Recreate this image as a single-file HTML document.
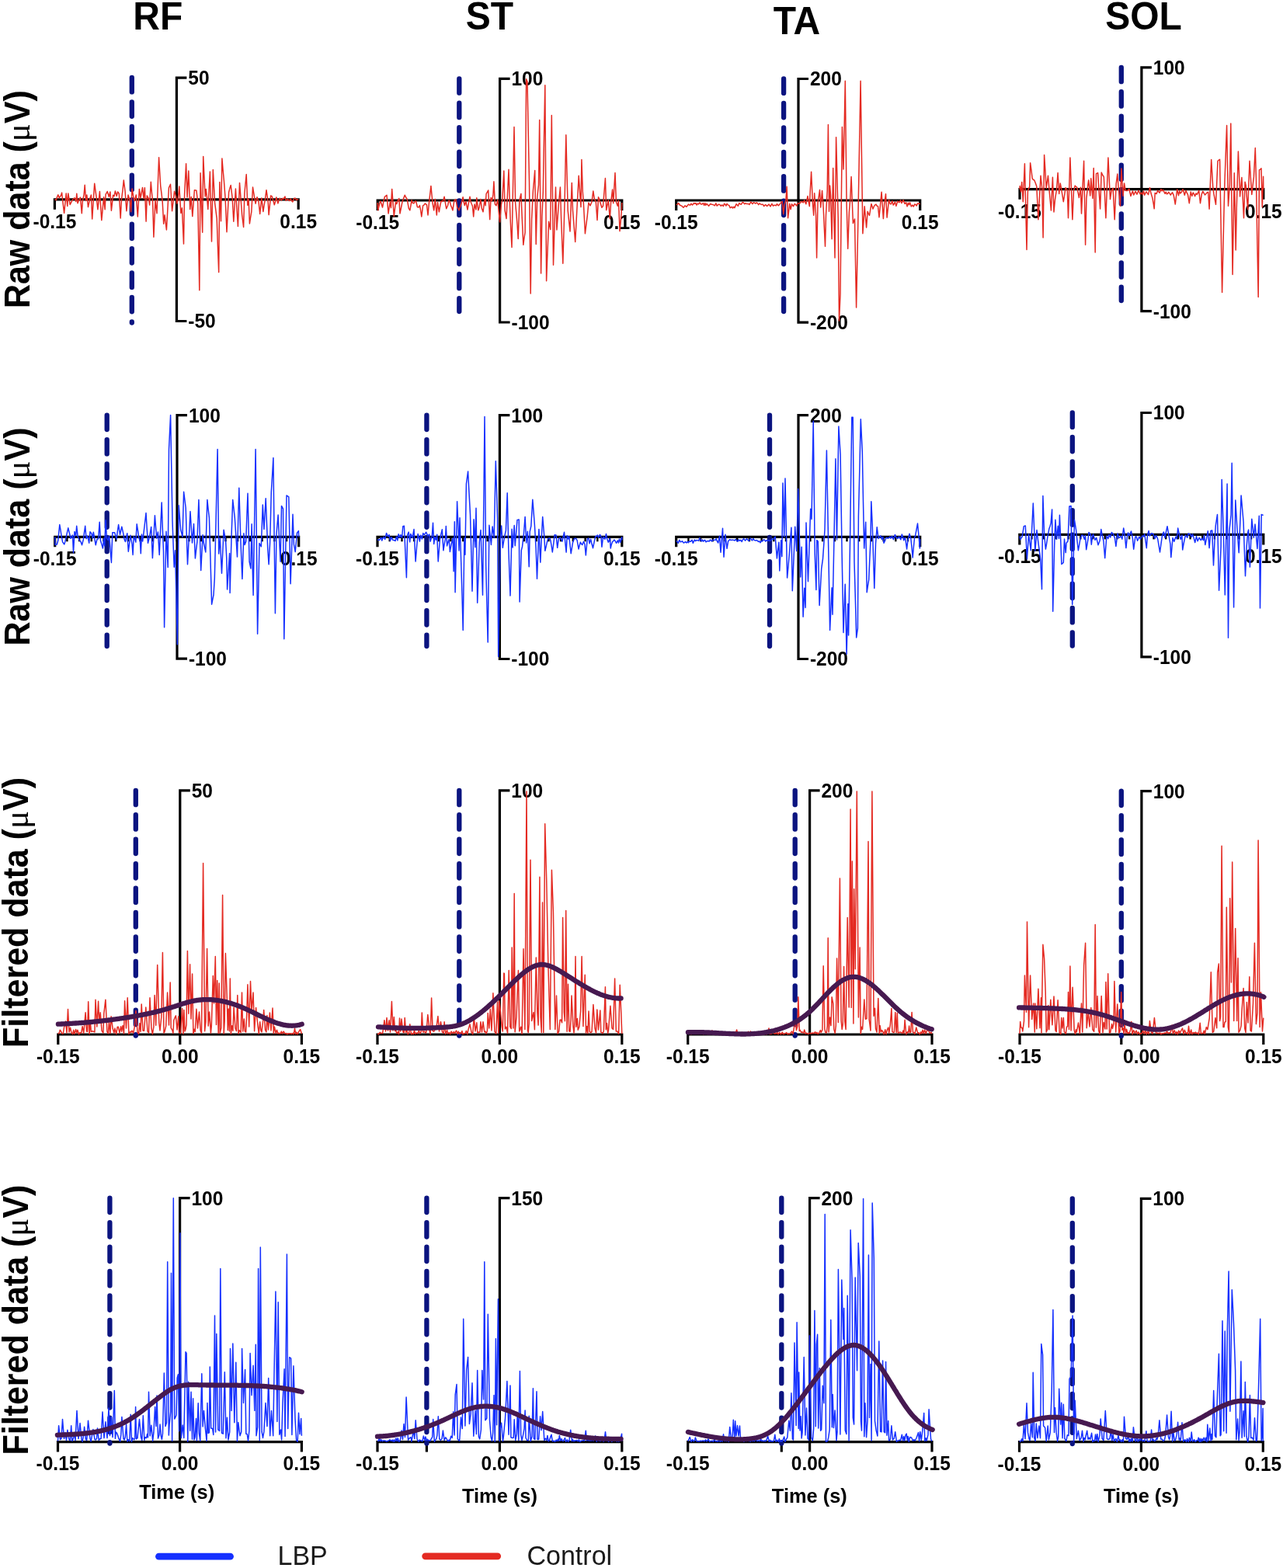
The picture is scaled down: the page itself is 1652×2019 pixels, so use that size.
<!DOCTYPE html>
<html><head><meta charset="utf-8"><title>EMG figure</title>
<style>html,body{margin:0;padding:0;background:#fff;}svg{display:block;}</style>
</head><body>
<svg xmlns="http://www.w3.org/2000/svg" width="1652" height="2019" viewBox="0 0 1652 2019"><rect width="1652" height="2019" fill="#fff"/><text x="0.0" y="0.0" font-family="'Liberation Sans', Arial, sans-serif" font-size="48" font-weight="bold" text-anchor="middle" fill="#000" transform="translate(203.2,37.8) scale(1,1.045)">RF</text><text x="0.0" y="0.0" font-family="'Liberation Sans', Arial, sans-serif" font-size="48" font-weight="bold" text-anchor="middle" fill="#000" transform="translate(630.5,37.8) scale(1,1.045)">ST</text><text x="0.0" y="0.0" font-family="'Liberation Sans', Arial, sans-serif" font-size="48" font-weight="bold" text-anchor="middle" fill="#000" transform="translate(1025.9,43.6) scale(1,1.045)">TA</text><text x="0.0" y="0.0" font-family="'Liberation Sans', Arial, sans-serif" font-size="48" font-weight="bold" text-anchor="middle" fill="#000" transform="translate(1472.5,38.0) scale(1,1.045)">SOL</text><text transform="translate(38.3,256.6) rotate(-90) scale(1,1.055)" font-family="'Liberation Sans', Arial, sans-serif" font-size="43" font-weight="bold" text-anchor="middle">Raw data (<tspan font-family="'Liberation Serif', serif" font-weight="normal">&#956;</tspan>V)</text><text transform="translate(38.2,691.0) rotate(-90) scale(1,1.055)" font-family="'Liberation Sans', Arial, sans-serif" font-size="43" font-weight="bold" text-anchor="middle">Raw data (<tspan font-family="'Liberation Serif', serif" font-weight="normal">&#956;</tspan>V)</text><text transform="translate(36.2,1175.0) rotate(-90) scale(1,1.055)" font-family="'Liberation Sans', Arial, sans-serif" font-size="43" font-weight="bold" text-anchor="middle">Filtered data (<tspan font-family="'Liberation Serif', serif" font-weight="normal">&#956;</tspan>V)</text><text transform="translate(36.2,1699.6) rotate(-90) scale(1,1.055)" font-family="'Liberation Sans', Arial, sans-serif" font-size="43" font-weight="bold" text-anchor="middle">Filtered data (<tspan font-family="'Liberation Serif', serif" font-weight="normal">&#956;</tspan>V)</text><path d="M240.4,100.2 H227.4 V413.5 H240.4" fill="none" stroke="#000" stroke-width="3.2" stroke-linejoin="miter" stroke-linecap="butt"/><path d="M70.4,269.8 V256.8 H384.2 V269.8" fill="none" stroke="#000" stroke-width="3.2" stroke-linejoin="miter"/><text x="0.0" y="0.0" font-family="'Liberation Sans', Arial, sans-serif" font-size="24.5" font-weight="bold" text-anchor="start" fill="#000" transform="translate(242.3,109.1) scale(1,1.035)">50</text><text x="0.0" y="0.0" font-family="'Liberation Sans', Arial, sans-serif" font-size="24.5" font-weight="bold" text-anchor="start" fill="#000" transform="translate(242.3,422.4) scale(1,1.035)">-50</text><text x="0.0" y="0.0" font-family="'Liberation Sans', Arial, sans-serif" font-size="24.5" font-weight="bold" text-anchor="middle" fill="#000" transform="translate(70.4,293.8) scale(1,1.035)">-0.15</text><text x="0.0" y="0.0" font-family="'Liberation Sans', Arial, sans-serif" font-size="24.5" font-weight="bold" text-anchor="middle" fill="#000" transform="translate(384.2,293.8) scale(1,1.035)">0.15</text><line x1="169.8" y1="100.0" x2="169.8" y2="415.5" stroke="#0b1480" stroke-width="6.3" stroke-linecap="round" stroke-dasharray="18.4 13.04"/><path d="M70.4,256.8 L72.4,257.5 L73.6,253.5 L74.8,250.9 L76.3,254.7 L77.4,253.1 L78.6,251.5 L79.6,248.1 L81.1,261.6 L82.6,274.3 L83.9,261.8 L85.2,249.1 L86.8,265.5 L87.8,249.1 L89.0,256.2 L90.2,263.5 L92.0,259.8 L93.9,256.7 L96.0,254.8 L97.8,259.6 L98.8,249.3 L100.0,261.8 L101.6,257.4 L103.5,254.1 L105.3,274.8 L106.4,258.7 L108.1,250.6 L109.2,238.3 L110.6,258.4 L111.8,250.9 L113.5,266.6 L114.7,260.8 L115.9,255.3 L117.4,251.1 L118.7,282.0 L120.2,258.5 L121.7,236.2 L122.9,245.1 L124.2,254.6 L125.9,269.7 L127.2,257.9 L128.4,246.5 L129.6,264.4 L130.8,283.6 L132.2,269.1 L133.6,253.8 L135.1,269.7 L136.1,250.3 L138.2,246.5 L140.3,253.2 L141.9,247.0 L143.4,271.2 L145.6,251.2 L147.0,252.8 L148.4,245.9 L150.2,252.5 L151.6,247.0 L153.3,249.3 L155.2,281.0 L156.5,256.7 L157.9,245.8 L159.3,232.1 L161.1,246.3 L162.9,271.7 L165.0,251.1 L166.2,254.9 L167.4,258.5 L168.6,272.8 L170.1,242.9 L171.6,252.4 L173.0,258.8 L174.1,255.5 L175.3,250.9 L177.3,278.9 L179.4,243.4 L181.0,254.8 L182.2,248.7 L183.5,241.4 L185.0,255.5 L186.4,241.7 L188.1,285.1 L189.3,251.9 L191.5,256.0 L192.6,264.0 L194.3,234.2 L195.4,247.5 L196.6,259.3 L197.9,305.2 L200.0,258.1 L202.0,274.8 L203.3,238.0 L204.6,202.8 L206.7,239.1 L208.0,249.2 L209.2,259.9 L210.7,288.2 L212.0,276.8 L213.2,286.3 L214.4,295.9 L215.9,269.1 L217.4,241.9 L219.5,237.2 L221.6,271.7 L223.1,258.7 L224.6,246.2 L225.7,250.1 L226.8,253.8 L227.7,262.2 L229.0,258.3 L230.8,240.0 L232.9,274.5 L234.4,267.8 L236.5,314.1 L237.6,250.4 L239.6,210.7 L241.1,253.9 L242.8,220.0 L244.7,269.4 L246.2,253.4 L247.8,278.6 L249.1,262.0 L250.4,244.7 L251.7,244.9 L252.9,245.2 L254.8,261.9 L256.8,373.8 L258.1,222.7 L259.4,261.9 L260.7,299.2 L261.7,201.4 L262.9,227.1 L264.2,252.9 L265.3,243.6 L266.6,255.3 L267.8,269.4 L269.1,244.7 L270.4,221.0 L272.5,311.0 L274.3,218.4 L275.5,240.4 L276.6,261.1 L277.9,271.1 L279.2,281.7 L280.4,316.7 L281.7,350.6 L282.8,234.4 L284.5,284.7 L285.9,204.0 L287.1,218.7 L288.4,232.8 L290.1,255.2 L292.0,298.7 L293.3,273.4 L294.6,247.7 L295.9,242.4 L297.2,238.5 L299.2,255.3 L300.8,285.3 L302.1,264.7 L303.4,243.1 L304.9,267.5 L306.4,291.5 L308.5,235.4 L310.1,256.1 L311.6,276.6 L313.6,292.5 L314.9,248.5 L316.0,237.0 L317.2,224.6 L318.8,264.3 L320.1,256.3 L321.4,287.9 L322.6,280.0 L323.8,272.8 L325.5,241.1 L326.7,248.3 L327.9,255.6 L329.1,262.2 L331.0,253.8 L333.0,259.5 L334.7,275.5 L336.8,254.9 L338.9,272.4 L340.0,264.9 L341.2,257.9 L343.0,244.7 L345.2,260.2 L346.1,276.6 L347.4,264.2 L348.6,251.9 L350.2,252.9 L351.8,258.3 L353.3,263.7 L354.6,259.3 L355.8,253.9 L357.9,261.9 L359.0,258.0 L360.1,255.3 L362.3,258.0 L363.8,255.4 L364.9,256.5 L366.9,253.0 L368.2,258.3 L370.3,256.4 L372.4,258.5 L374.2,256.1 L375.5,258.4 L376.8,259.9 L378.9,255.2 L380.2,255.2 L381.5,257.5 L382.9,256.8 L384.2,256.8" fill="none" stroke="#e42a22" stroke-width="1.5" stroke-linejoin="round"/><path d="M656.6,101.3 H643.6 V415.0 H656.6" fill="none" stroke="#000" stroke-width="3.2" stroke-linejoin="miter" stroke-linecap="butt"/><path d="M486.2,271.0 V258.0 H800.8 V271.0" fill="none" stroke="#000" stroke-width="3.2" stroke-linejoin="miter"/><text x="0.0" y="0.0" font-family="'Liberation Sans', Arial, sans-serif" font-size="24.5" font-weight="bold" text-anchor="start" fill="#000" transform="translate(658.5,110.2) scale(1,1.035)">100</text><text x="0.0" y="0.0" font-family="'Liberation Sans', Arial, sans-serif" font-size="24.5" font-weight="bold" text-anchor="start" fill="#000" transform="translate(658.5,423.9) scale(1,1.035)">-100</text><text x="0.0" y="0.0" font-family="'Liberation Sans', Arial, sans-serif" font-size="24.5" font-weight="bold" text-anchor="middle" fill="#000" transform="translate(486.2,295.0) scale(1,1.035)">-0.15</text><text x="0.0" y="0.0" font-family="'Liberation Sans', Arial, sans-serif" font-size="24.5" font-weight="bold" text-anchor="middle" fill="#000" transform="translate(800.8,295.0) scale(1,1.035)">0.15</text><line x1="591.3" y1="101.3" x2="591.3" y2="401.0" stroke="#0b1480" stroke-width="6.3" stroke-linecap="round" stroke-dasharray="18.4 13.04"/><path d="M486.2,261.0 L486.7,270.8 L488.9,261.3 L490.0,259.0 L491.2,262.7 L492.5,267.0 L493.9,259.4 L495.4,253.3 L496.7,252.4 L498.0,251.2 L500.1,274.9 L501.2,267.0 L502.3,260.1 L503.4,267.6 L504.7,243.5 L506.0,260.5 L507.3,278.5 L509.5,260.2 L510.8,262.6 L511.9,259.0 L513.8,255.5 L515.0,274.9 L516.5,267.5 L518.0,260.0 L519.6,255.5 L521.2,251.2 L522.7,254.3 L524.2,256.4 L526.3,268.3 L527.8,270.8 L529.0,264.4 L530.1,257.8 L531.0,261.0 L532.9,261.9 L534.4,259.2 L535.6,259.0 L537.4,266.5 L539.0,267.0 L540.4,264.5 L541.6,270.7 L542.8,279.0 L544.6,264.9 L545.9,264.0 L547.4,262.0 L549.5,263.9 L551.0,277.0 L552.7,258.6 L553.8,249.3 L554.9,239.4 L557.0,261.3 L558.7,270.8 L560.3,256.4 L562.3,277.0 L563.5,260.5 L565.4,272.8 L566.7,264.9 L568.0,259.0 L569.3,259.4 L571.0,257.6 L572.1,253.3 L573.4,261.1 L574.7,268.7 L576.7,264.2 L578.0,258.0 L579.1,259.1 L580.6,264.9 L581.8,267.4 L582.9,270.8 L584.9,258.2 L587.0,256.9 L588.7,267.1 L589.9,268.5 L591.1,270.8 L592.5,266.4 L594.0,262.0 L596.1,253.8 L597.2,260.3 L598.3,264.6 L599.8,259.2 L602.0,270.0 L603.5,261.1 L605.0,253.3 L606.2,260.0 L607.3,262.8 L608.4,265.3 L609.7,279.0 L611.0,263.0 L612.9,269.9 L613.8,254.8 L615.8,270.8 L617.1,267.0 L618.9,256.4 L620.3,268.3 L622.0,272.8 L624.1,256.7 L625.1,264.7 L626.1,249.7 L627.4,247.4 L628.7,245.0 L630.7,282.6 L632.1,254.5 L633.5,258.5 L634.9,251.2 L635.9,233.7 L637.4,263.0 L639.0,264.6 L640.8,257.3 L642.2,272.8 L643.6,286.0 L645.4,263.7 L646.9,256.8 L648.8,220.0 L650.1,270.8 L652.0,281.5 L653.5,249.8 L655.0,218.2 L656.3,259.2 L657.3,285.8 L659.0,318.4 L660.5,241.0 L662.0,163.6 L663.6,261.2 L664.9,275.4 L666.1,290.0 L667.2,307.5 L668.9,257.8 L670.9,249.4 L672.3,281.8 L673.8,315.3 L674.9,306.8 L676.1,299.4 L677.6,101.8 L679.0,105.1 L680.2,168.9 L681.5,234.3 L683.2,378.0 L684.6,282.8 L686.4,245.6 L687.6,232.3 L688.7,219.5 L690.2,314.5 L691.7,254.9 L693.5,238.1 L694.7,154.6 L696.6,352.1 L697.9,278.2 L699.3,247.1 L700.5,177.5 L701.8,109.8 L703.6,361.7 L704.6,334.5 L706.6,285.3 L708.7,295.6 L710.3,148.6 L711.4,244.8 L712.5,341.2 L714.0,291.3 L715.5,241.0 L716.9,296.0 L718.1,279.9 L719.3,263.4 L721.4,241.1 L722.6,281.4 L723.7,310.0 L724.8,339.3 L726.0,297.2 L727.2,254.7 L728.8,173.7 L730.0,222.4 L731.2,271.1 L732.6,284.7 L734.0,297.9 L735.2,265.4 L736.3,235.4 L737.5,270.5 L739.1,291.4 L740.7,311.5 L742.8,271.2 L744.0,249.2 L745.2,226.3 L746.7,249.1 L748.0,266.6 L748.9,205.5 L750.3,246.7 L751.4,262.2 L753.4,300.8 L754.8,289.4 L756.3,277.8 L757.9,261.0 L760.0,264.8 L762.0,260.0 L763.8,246.1 L765.3,255.8 L767.3,260.3 L769.0,283.4 L770.5,253.7 L771.8,256.9 L773.1,261.6 L774.9,267.2 L776.5,265.3 L778.0,246.7 L779.4,229.5 L780.7,270.6 L782.0,264.1 L783.3,257.8 L785.3,281.7 L786.6,260.8 L788.6,244.0 L789.7,261.8 L790.8,242.2 L792.0,222.5 L793.4,259.9 L795.3,265.2 L796.5,258.2 L798.0,297.6 L799.1,286.3 L800.2,273.2 L800.8,261.0" fill="none" stroke="#e42a22" stroke-width="1.5" stroke-linejoin="round"/><path d="M1041.0,101.5 H1028.0 V415.2 H1041.0" fill="none" stroke="#000" stroke-width="3.2" stroke-linejoin="miter" stroke-linecap="butt"/><path d="M870.7,271.0 V258.0 H1184.7 V271.0" fill="none" stroke="#000" stroke-width="3.2" stroke-linejoin="miter"/><text x="0.0" y="0.0" font-family="'Liberation Sans', Arial, sans-serif" font-size="24.5" font-weight="bold" text-anchor="start" fill="#000" transform="translate(1042.9,110.4) scale(1,1.035)">200</text><text x="0.0" y="0.0" font-family="'Liberation Sans', Arial, sans-serif" font-size="24.5" font-weight="bold" text-anchor="start" fill="#000" transform="translate(1042.9,424.1) scale(1,1.035)">-200</text><text x="0.0" y="0.0" font-family="'Liberation Sans', Arial, sans-serif" font-size="24.5" font-weight="bold" text-anchor="middle" fill="#000" transform="translate(870.7,295.0) scale(1,1.035)">-0.15</text><text x="0.0" y="0.0" font-family="'Liberation Sans', Arial, sans-serif" font-size="24.5" font-weight="bold" text-anchor="middle" fill="#000" transform="translate(1184.7,295.0) scale(1,1.035)">0.15</text><line x1="1009.1" y1="101.5" x2="1009.1" y2="401.0" stroke="#0b1480" stroke-width="6.3" stroke-linecap="round" stroke-dasharray="18.4 13.04"/><path d="M870.7,263.5 L872.3,263.2 L873.6,261.5 L875.6,264.3 L877.8,265.1 L880.0,267.2 L882.1,264.8 L884.0,266.3 L885.2,264.6 L886.4,263.1 L887.6,263.9 L888.9,264.1 L889.9,262.2 L891.6,264.0 L893.6,261.5 L894.9,262.3 L895.9,261.5 L897.0,264.0 L898.4,262.0 L899.5,262.9 L901.0,260.9 L902.1,262.5 L903.2,263.1 L904.4,262.5 L905.5,261.6 L906.7,264.5 L907.8,261.6 L908.8,264.2 L910.0,262.3 L911.3,263.7 L912.6,265.2 L914.7,262.5 L916.6,263.2 L918.4,263.6 L920.4,264.8 L921.8,261.7 L923.2,265.1 L924.5,263.7 L925.8,263.1 L927.1,263.7 L928.3,265.3 L929.6,263.9 L931.4,265.5 L932.5,262.3 L933.7,263.0 L934.9,265.0 L936.1,262.4 L937.3,263.9 L938.8,264.4 L940.2,267.6 L942.3,266.3 L943.5,268.0 L944.9,266.2 L945.9,267.7 L948.1,262.6 L950.3,265.3 L951.8,261.6 L953.0,262.7 L954.2,263.3 L956.2,260.4 L957.5,261.2 L958.8,262.8 L960.0,261.7 L961.2,262.5 L962.5,262.4 L963.8,262.4 L964.9,263.5 L966.8,260.1 L968.9,262.6 L970.4,260.7 L971.5,261.1 L972.6,262.0 L974.4,261.0 L975.5,261.9 L976.7,263.6 L978.0,261.9 L980.1,263.5 L981.2,263.3 L982.3,263.2 L983.7,265.5 L985.7,263.5 L987.6,265.4 L988.8,264.2 L990.0,263.0 L992.0,265.9 L993.9,262.4 L995.5,265.2 L996.6,264.3 L997.8,264.2 L999.3,264.8 L1000.5,262.6 L1002.3,264.8 L1003.5,263.4 L1004.6,262.2 L1005.9,260.6 L1007.2,259.4 L1008.7,275.7 L1010.0,264.1 L1011.9,258.0 L1013.1,240.3 L1014.6,280.7 L1016.7,262.3 L1018.1,269.6 L1019.5,262.7 L1021.5,265.6 L1023.1,262.4 L1024.4,263.2 L1025.6,264.9 L1027.5,261.6 L1028.7,262.0 L1029.9,261.9 L1031.0,260.4 L1032.2,259.3 L1034.3,260.9 L1035.6,257.7 L1037.8,262.8 L1040.0,252.5 L1041.1,259.3 L1042.3,265.6 L1043.4,243.3 L1044.6,221.2 L1046.4,261.2 L1047.7,277.2 L1048.7,248.8 L1050.6,277.2 L1051.6,332.0 L1053.0,261.2 L1054.3,253.1 L1055.5,244.6 L1056.7,267.0 L1058.6,245.4 L1060.2,267.8 L1061.3,292.4 L1062.5,317.2 L1063.5,277.1 L1065.2,245.8 L1066.4,160.4 L1067.5,272.3 L1068.6,238.9 L1069.6,252.4 L1071.1,307.8 L1072.7,216.5 L1073.8,275.5 L1075.0,332.0 L1076.6,176.8 L1077.9,228.6 L1079.2,280.6 L1080.5,413.0 L1082.0,378.8 L1083.2,270.4 L1084.4,163.5 L1086.0,218.1 L1087.2,160.9 L1088.3,104.2 L1090.1,262.2 L1091.7,320.3 L1093.4,273.1 L1094.8,255.6 L1096.1,227.5 L1097.2,257.7 L1098.4,287.5 L1100.5,282.0 L1102.6,396.0 L1104.7,292.2 L1106.2,206.5 L1108.1,104.2 L1109.5,202.6 L1110.9,300.8 L1112.1,283.3 L1113.2,265.7 L1114.4,279.3 L1115.6,293.0 L1117.1,272.3 L1118.3,275.0 L1119.5,277.4 L1120.7,270.0 L1121.9,262.6 L1124.0,269.0 L1125.5,265.5 L1126.7,263.9 L1128.0,263.1 L1128.8,264.9 L1130.5,265.6 L1132.0,279.8 L1133.7,261.6 L1135.1,247.2 L1136.2,264.6 L1137.4,281.6 L1138.6,263.6 L1140.5,249.7 L1142.1,280.1 L1143.3,268.9 L1144.5,257.3 L1146.0,262.4 L1147.4,262.7 L1148.8,258.8 L1150.2,264.1 L1151.3,262.5 L1152.4,260.0 L1153.9,265.4 L1155.8,259.0 L1157.8,260.8 L1159.6,257.9 L1160.8,261.6 L1161.9,259.9 L1163.1,257.6 L1165.0,262.4 L1166.7,260.8 L1168.1,265.9 L1169.4,261.3 L1170.5,263.7 L1171.6,260.9 L1173.4,265.9 L1174.8,264.1 L1176.3,265.9 L1177.9,262.8 L1179.1,263.6 L1180.3,265.0 L1181.3,262.1 L1182.5,262.3 L1183.7,262.1 L1184.7,263.0" fill="none" stroke="#e42a22" stroke-width="1.5" stroke-linejoin="round"/><path d="M1482.9,86.8 H1469.9 V400.6 H1482.9" fill="none" stroke="#000" stroke-width="3.2" stroke-linejoin="miter" stroke-linecap="butt"/><path d="M1313.0,256.7 V243.7 H1626.8 V256.7" fill="none" stroke="#000" stroke-width="3.2" stroke-linejoin="miter"/><text x="0.0" y="0.0" font-family="'Liberation Sans', Arial, sans-serif" font-size="24.5" font-weight="bold" text-anchor="start" fill="#000" transform="translate(1484.8,95.7) scale(1,1.035)">100</text><text x="0.0" y="0.0" font-family="'Liberation Sans', Arial, sans-serif" font-size="24.5" font-weight="bold" text-anchor="start" fill="#000" transform="translate(1484.8,409.5) scale(1,1.035)">-100</text><text x="0.0" y="0.0" font-family="'Liberation Sans', Arial, sans-serif" font-size="24.5" font-weight="bold" text-anchor="middle" fill="#000" transform="translate(1313.0,280.7) scale(1,1.035)">-0.15</text><text x="0.0" y="0.0" font-family="'Liberation Sans', Arial, sans-serif" font-size="24.5" font-weight="bold" text-anchor="middle" fill="#000" transform="translate(1626.8,280.7) scale(1,1.035)">0.15</text><line x1="1443.8" y1="86.8" x2="1443.8" y2="387.0" stroke="#0b1480" stroke-width="6.3" stroke-linecap="round" stroke-dasharray="18.4 13.04"/><path d="M1313.0,243.7 L1313.2,239.6 L1314.5,246.9 L1315.7,234.5 L1317.3,259.7 L1319.4,210.8 L1320.7,265.3 L1322.0,321.4 L1323.4,246.4 L1324.5,242.8 L1325.7,240.4 L1326.6,209.7 L1327.9,218.8 L1329.2,229.8 L1330.5,231.5 L1331.8,231.9 L1333.3,235.8 L1334.8,240.1 L1336.9,282.8 L1338.5,254.1 L1340.0,226.2 L1341.8,243.0 L1343.1,306.0 L1344.6,199.5 L1345.9,220.0 L1347.2,242.2 L1348.3,234.5 L1349.5,226.2 L1351.2,246.9 L1353.4,271.0 L1355.4,228.3 L1357.0,273.0 L1358.4,257.6 L1360.5,243.8 L1362.1,222.6 L1363.7,249.4 L1365.2,236.0 L1366.3,241.5 L1367.4,248.2 L1369.3,259.7 L1370.7,250.8 L1372.0,241.7 L1373.1,243.2 L1374.3,245.2 L1375.5,280.7 L1376.7,242.5 L1377.9,203.1 L1379.4,242.5 L1380.9,282.8 L1382.5,245.4 L1384.2,239.1 L1385.4,240.4 L1386.7,241.1 L1388.6,250.3 L1389.4,254.5 L1391.4,241.2 L1392.5,275.1 L1394.0,241.7 L1395.6,207.2 L1397.6,315.2 L1398.9,255.7 L1400.8,238.2 L1401.7,231.9 L1403.7,251.9 L1404.8,229.8 L1406.9,255.5 L1408.2,216.4 L1410.2,325.0 L1411.5,223.7 L1413.6,222.6 L1415.1,246.1 L1416.6,268.9 L1418.2,222.1 L1419.8,225.5 L1421.3,227.7 L1422.6,253.8 L1423.9,280.7 L1425.4,241.4 L1426.9,203.1 L1428.2,230.3 L1429.5,256.6 L1431.0,246.1 L1433.1,242.2 L1435.2,282.8 L1437.2,236.5 L1438.8,224.1 L1440.2,242.5 L1441.3,253.0 L1442.4,265.3 L1443.9,216.9 L1446.0,252.4 L1447.6,235.9 L1449.1,245.3 L1450.3,245.6 L1451.6,245.5 L1452.7,244.5 L1453.9,243.4 L1456.0,252.5 L1457.2,249.0 L1458.4,246.0 L1459.8,251.0 L1461.0,248.5 L1462.1,246.4 L1463.9,250.2 L1466.0,245.2 L1468.1,250.0 L1469.7,248.1 L1471.2,250.5 L1472.6,246.1 L1473.7,251.2 L1474.9,248.6 L1476.0,246.8 L1477.3,248.8 L1478.6,250.7 L1480.5,241.7 L1482.0,248.8 L1484.0,255.4 L1485.1,261.7 L1486.2,268.8 L1487.2,248.4 L1489.1,249.6 L1490.7,245.3 L1491.9,246.9 L1493.1,248.1 L1495.0,243.6 L1496.1,245.8 L1497.7,244.5 L1498.9,247.2 L1500.1,249.4 L1501.3,247.2 L1502.5,249.9 L1503.7,249.2 L1504.8,247.4 L1506.1,249.1 L1507.3,251.1 L1508.5,249.2 L1509.6,247.8 L1511.2,251.4 L1513.3,263.0 L1514.5,253.0 L1515.7,243.9 L1517.5,251.7 L1518.7,245.7 L1519.8,249.1 L1521.2,247.6 L1523.0,243.7 L1524.2,247.1 L1525.3,251.2 L1527.0,245.3 L1528.2,248.1 L1529.5,250.7 L1531.3,261.7 L1533.2,247.1 L1534.9,252.4 L1536.3,247.9 L1537.4,249.8 L1538.6,252.8 L1540.0,249.1 L1541.3,250.4 L1542.5,248.2 L1543.7,245.4 L1545.5,261.7 L1547.3,249.9 L1548.8,246.4 L1550.1,248.7 L1551.4,251.0 L1552.6,249.9 L1553.9,248.2 L1555.7,247.4 L1557.1,269.1 L1558.4,236.5 L1559.7,205.6 L1561.7,240.1 L1562.9,249.7 L1564.2,256.3 L1565.5,263.3 L1566.8,234.0 L1568.0,207.3 L1569.3,206.2 L1570.6,205.3 L1572.1,290.2 L1573.6,376.6 L1574.7,328.3 L1575.8,280.0 L1577.0,232.4 L1578.3,197.2 L1579.6,161.5 L1581.5,265.2 L1583.4,237.8 L1584.8,159.0 L1585.9,256.3 L1587.1,353.4 L1588.2,287.3 L1589.3,222.7 L1591.2,321.9 L1592.3,266.8 L1594.4,195.0 L1596.6,253.0 L1597.8,240.0 L1598.9,228.5 L1600.2,254.5 L1601.5,280.7 L1603.1,234.3 L1604.2,238.6 L1605.4,254.5 L1606.7,269.7 L1607.8,238.5 L1609.0,207.3 L1610.4,229.4 L1611.8,250.4 L1613.1,239.1 L1614.4,227.9 L1616.3,190.5 L1617.5,233.1 L1618.8,308.4 L1620.2,382.4 L1621.5,218.8 L1622.8,218.1 L1624.0,216.9 L1625.3,266.5 L1626.6,227.2 L1626.8,243.7" fill="none" stroke="#e42a22" stroke-width="1.5" stroke-linejoin="round"/><path d="M241.0,534.6 H228.0 V848.2 H241.0" fill="none" stroke="#000" stroke-width="3.2" stroke-linejoin="miter" stroke-linecap="butt"/><path d="M70.7,704.3 V691.3 H384.7 V704.3" fill="none" stroke="#000" stroke-width="3.2" stroke-linejoin="miter"/><line x1="86.4" y1="691.3" x2="86.4" y2="697.3" stroke="#000" stroke-width="2.4"/><line x1="102.1" y1="691.3" x2="102.1" y2="697.3" stroke="#000" stroke-width="2.4"/><line x1="117.8" y1="691.3" x2="117.8" y2="697.3" stroke="#000" stroke-width="2.4"/><line x1="133.5" y1="691.3" x2="133.5" y2="697.3" stroke="#000" stroke-width="2.4"/><line x1="149.2" y1="691.3" x2="149.2" y2="697.3" stroke="#000" stroke-width="2.4"/><line x1="164.9" y1="691.3" x2="164.9" y2="697.3" stroke="#000" stroke-width="2.4"/><line x1="180.6" y1="691.3" x2="180.6" y2="697.3" stroke="#000" stroke-width="2.4"/><line x1="196.3" y1="691.3" x2="196.3" y2="697.3" stroke="#000" stroke-width="2.4"/><line x1="212.0" y1="691.3" x2="212.0" y2="697.3" stroke="#000" stroke-width="2.4"/><line x1="227.7" y1="691.3" x2="227.7" y2="697.3" stroke="#000" stroke-width="2.4"/><line x1="243.4" y1="691.3" x2="243.4" y2="697.3" stroke="#000" stroke-width="2.4"/><line x1="259.1" y1="691.3" x2="259.1" y2="697.3" stroke="#000" stroke-width="2.4"/><line x1="274.8" y1="691.3" x2="274.8" y2="697.3" stroke="#000" stroke-width="2.4"/><line x1="290.5" y1="691.3" x2="290.5" y2="697.3" stroke="#000" stroke-width="2.4"/><line x1="306.2" y1="691.3" x2="306.2" y2="697.3" stroke="#000" stroke-width="2.4"/><line x1="321.9" y1="691.3" x2="321.9" y2="697.3" stroke="#000" stroke-width="2.4"/><line x1="337.6" y1="691.3" x2="337.6" y2="697.3" stroke="#000" stroke-width="2.4"/><line x1="353.3" y1="691.3" x2="353.3" y2="697.3" stroke="#000" stroke-width="2.4"/><line x1="369.0" y1="691.3" x2="369.0" y2="697.3" stroke="#000" stroke-width="2.4"/><text x="0.0" y="0.0" font-family="'Liberation Sans', Arial, sans-serif" font-size="24.5" font-weight="bold" text-anchor="start" fill="#000" transform="translate(242.9,543.5) scale(1,1.035)">100</text><text x="0.0" y="0.0" font-family="'Liberation Sans', Arial, sans-serif" font-size="24.5" font-weight="bold" text-anchor="start" fill="#000" transform="translate(242.9,857.1) scale(1,1.035)">-100</text><text x="0.0" y="0.0" font-family="'Liberation Sans', Arial, sans-serif" font-size="24.5" font-weight="bold" text-anchor="middle" fill="#000" transform="translate(70.7,728.3) scale(1,1.035)">-0.15</text><text x="0.0" y="0.0" font-family="'Liberation Sans', Arial, sans-serif" font-size="24.5" font-weight="bold" text-anchor="middle" fill="#000" transform="translate(384.7,728.3) scale(1,1.035)">0.15</text><line x1="137.7" y1="534.6" x2="137.7" y2="832.0" stroke="#0b1480" stroke-width="6.3" stroke-linecap="round" stroke-dasharray="18.4 13.04"/><path d="M70.7,691.3 L71.0,701.7 L72.1,701.1 L73.3,701.0 L74.7,696.3 L76.8,675.6 L77.9,681.8 L79.0,689.3 L80.6,697.8 L82.7,700.9 L83.9,697.2 L85.0,692.3 L86.4,685.9 L87.8,679.8 L89.4,686.5 L91.0,693.3 L92.2,691.4 L93.5,689.1 L94.5,711.8 L96.0,684.5 L97.7,689.5 L98.7,677.3 L100.1,690.1 L102.0,695.3 L104.0,697.5 L105.5,701.7 L107.4,694.6 L108.5,685.7 L109.7,677.3 L111.1,693.7 L112.4,690.0 L113.6,693.8 L114.7,699.2 L116.0,684.7 L118.0,687.3 L119.2,693.1 L120.3,685.2 L121.8,693.4 L123.2,701.7 L125.0,694.2 L126.6,693.7 L128.2,672.3 L129.4,695.7 L130.9,700.9 L132.4,706.0 L133.6,693.3 L134.7,702.8 L136.1,669.7 L137.4,693.4 L139.0,695.4 L140.7,690.3 L142.1,707.5 L143.4,724.5 L144.8,685.8 L146.2,685.8 L147.6,685.7 L148.8,689.6 L150.0,694.3 L151.3,684.3 L152.6,675.6 L154.5,688.3 L155.7,683.1 L156.8,678.2 L158.0,683.3 L159.1,688.6 L160.0,694.3 L161.4,697.5 L162.6,691.9 L163.8,686.7 L165.3,710.2 L166.7,699.4 L168.0,689.3 L170.1,700.9 L171.1,714.4 L172.2,690.7 L173.5,693.8 L174.8,698.1 L176.2,674.8 L177.5,683.1 L178.7,692.1 L180.4,696.9 L181.3,712.7 L182.5,687.9 L183.7,696.9 L185.0,686.3 L186.5,673.5 L188.0,660.5 L189.2,680.8 L190.5,699.2 L191.8,694.0 L193.0,688.3 L194.7,678.5 L196.4,718.6 L197.9,691.6 L199.4,663.8 L200.6,679.2 L201.7,693.2 L203.4,684.9 L205.2,714.4 L206.7,680.4 L208.2,647.0 L209.3,679.4 L210.5,710.0 L211.6,807.8 L212.8,745.4 L214.0,684.2 L216.2,730.6 L217.5,578.8 L219.6,534.6 L220.8,603.3 L222.0,670.4 L223.1,701.4 L224.2,730.3 L225.6,708.7 L227.0,769.6 L228.4,829.7 L230.2,650.8 L231.5,667.3 L232.7,682.3 L233.8,686.4 L235.0,691.5 L236.6,633.3 L237.9,643.5 L239.2,654.0 L240.3,690.0 L241.5,726.7 L242.7,703.3 L243.9,681.3 L245.0,658.5 L246.2,678.2 L247.5,699.0 L249.5,674.6 L251.4,719.0 L252.6,707.8 L253.9,697.5 L255.9,643.6 L257.3,688.1 L258.7,734.4 L259.9,711.6 L261.1,688.7 L262.3,699.0 L263.5,704.9 L264.8,710.9 L266.9,643.6 L268.1,655.3 L269.4,666.8 L270.7,710.8 L272.6,778.2 L273.8,771.8 L275.0,766.0 L276.3,744.8 L277.3,703.6 L278.7,641.5 L280.1,578.6 L281.7,713.1 L283.4,693.0 L284.6,719.9 L285.5,738.3 L286.8,710.1 L288.1,682.3 L289.4,689.7 L290.6,696.4 L291.8,719.1 L292.6,758.9 L294.1,735.5 L295.6,712.5 L296.1,763.4 L298.1,688.7 L299.7,643.6 L301.0,654.9 L302.3,666.8 L303.9,691.8 L305.5,717.1 L306.6,671.8 L307.8,628.2 L308.9,664.5 L310.0,699.1 L311.9,745.4 L313.9,686.8 L315.1,701.6 L316.7,697.3 L317.8,666.4 L319.0,635.3 L321.1,723.4 L322.9,731.9 L324.1,674.8 L325.2,731.5 L326.1,766.6 L327.6,672.2 L329.1,578.6 L330.4,697.2 L331.6,816.2 L332.8,758.9 L334.0,699.5 L335.1,701.5 L336.3,703.8 L338.3,650.1 L339.9,681.4 L341.1,661.2 L342.2,641.7 L343.5,674.5 L344.7,706.0 L346.1,726.7 L347.6,699.4 L349.3,633.3 L350.6,612.2 L351.9,589.6 L353.1,690.1 L354.4,789.8 L356.0,687.3 L358.1,663.1 L358.9,680.4 L361.1,723.2 L362.5,651.4 L364.5,655.1 L365.8,822.7 L367.4,730.6 L369.0,637.9 L370.4,638.8 L371.8,639.8 L373.0,695.8 L374.1,751.8 L375.6,707.4 L377.0,662.3 L378.4,700.9 L380.2,710.6 L381.3,698.8 L382.5,686.3 L384.4,683.6 L384.7,691.3" fill="none" stroke="#1530ff" stroke-width="1.5" stroke-linejoin="round"/><path d="M656.4,534.6 H643.4 V848.5 H656.4" fill="none" stroke="#000" stroke-width="3.2" stroke-linejoin="miter" stroke-linecap="butt"/><path d="M486.0,704.3 V691.3 H800.8 V704.3" fill="none" stroke="#000" stroke-width="3.2" stroke-linejoin="miter"/><line x1="501.7" y1="691.3" x2="501.7" y2="697.3" stroke="#000" stroke-width="2.4"/><line x1="517.5" y1="691.3" x2="517.5" y2="697.3" stroke="#000" stroke-width="2.4"/><line x1="533.2" y1="691.3" x2="533.2" y2="697.3" stroke="#000" stroke-width="2.4"/><line x1="549.0" y1="691.3" x2="549.0" y2="697.3" stroke="#000" stroke-width="2.4"/><line x1="564.7" y1="691.3" x2="564.7" y2="697.3" stroke="#000" stroke-width="2.4"/><line x1="580.4" y1="691.3" x2="580.4" y2="697.3" stroke="#000" stroke-width="2.4"/><line x1="596.2" y1="691.3" x2="596.2" y2="697.3" stroke="#000" stroke-width="2.4"/><line x1="611.9" y1="691.3" x2="611.9" y2="697.3" stroke="#000" stroke-width="2.4"/><line x1="627.7" y1="691.3" x2="627.7" y2="697.3" stroke="#000" stroke-width="2.4"/><line x1="643.4" y1="691.3" x2="643.4" y2="697.3" stroke="#000" stroke-width="2.4"/><line x1="659.1" y1="691.3" x2="659.1" y2="697.3" stroke="#000" stroke-width="2.4"/><line x1="674.9" y1="691.3" x2="674.9" y2="697.3" stroke="#000" stroke-width="2.4"/><line x1="690.6" y1="691.3" x2="690.6" y2="697.3" stroke="#000" stroke-width="2.4"/><line x1="706.4" y1="691.3" x2="706.4" y2="697.3" stroke="#000" stroke-width="2.4"/><line x1="722.1" y1="691.3" x2="722.1" y2="697.3" stroke="#000" stroke-width="2.4"/><line x1="737.8" y1="691.3" x2="737.8" y2="697.3" stroke="#000" stroke-width="2.4"/><line x1="753.6" y1="691.3" x2="753.6" y2="697.3" stroke="#000" stroke-width="2.4"/><line x1="769.3" y1="691.3" x2="769.3" y2="697.3" stroke="#000" stroke-width="2.4"/><line x1="785.1" y1="691.3" x2="785.1" y2="697.3" stroke="#000" stroke-width="2.4"/><text x="0.0" y="0.0" font-family="'Liberation Sans', Arial, sans-serif" font-size="24.5" font-weight="bold" text-anchor="start" fill="#000" transform="translate(658.3,543.5) scale(1,1.035)">100</text><text x="0.0" y="0.0" font-family="'Liberation Sans', Arial, sans-serif" font-size="24.5" font-weight="bold" text-anchor="start" fill="#000" transform="translate(658.3,857.4) scale(1,1.035)">-100</text><text x="0.0" y="0.0" font-family="'Liberation Sans', Arial, sans-serif" font-size="24.5" font-weight="bold" text-anchor="middle" fill="#000" transform="translate(486.0,728.3) scale(1,1.035)">-0.15</text><text x="0.0" y="0.0" font-family="'Liberation Sans', Arial, sans-serif" font-size="24.5" font-weight="bold" text-anchor="middle" fill="#000" transform="translate(800.8,728.3) scale(1,1.035)">0.15</text><line x1="549.4" y1="534.6" x2="549.4" y2="832.0" stroke="#0b1480" stroke-width="6.3" stroke-linecap="round" stroke-dasharray="18.4 13.04"/><path d="M486.0,695.3 L487.3,695.1 L488.5,695.4 L490.7,692.2 L491.7,696.1 L492.9,693.1 L494.0,691.4 L495.7,694.5 L497.6,686.5 L499.6,690.7 L501.1,688.7 L502.5,696.3 L504.0,691.7 L505.8,695.4 L507.2,695.4 L509.0,696.5 L510.6,691.0 L511.9,695.9 L513.1,687.7 L514.8,692.1 L515.9,688.6 L517.6,692.2 L518.8,677.7 L520.4,677.3 L521.9,711.1 L523.4,743.8 L524.7,688.5 L526.2,685.1 L527.7,697.8 L528.8,687.4 L531.0,692.6 L533.0,681.6 L535.1,722.9 L536.6,704.3 L538.1,687.5 L539.3,691.8 L540.4,697.1 L541.7,689.2 L543.4,694.1 L544.8,686.6 L546.4,688.7 L547.6,686.8 L548.7,685.3 L550.9,690.0 L552.8,688.0 L554.1,697.2 L556.3,690.1 L557.5,673.3 L558.7,700.5 L560.0,691.5 L561.4,695.2 L562.7,688.3 L564.2,723.0 L565.4,707.5 L566.5,694.0 L567.9,687.7 L569.3,681.8 L570.9,708.8 L572.1,700.9 L573.4,693.9 L574.3,677.6 L575.6,702.9 L576.9,698.1 L578.1,694.4 L579.4,710.4 L581.0,701.2 L583.1,692.9 L584.1,735.8 L585.3,671.8 L586.1,762.7 L587.4,703.8 L588.6,645.7 L589.9,677.0 L591.1,708.9 L592.0,666.8 L593.7,723.6 L595.0,766.9 L596.2,811.6 L597.9,693.0 L598.9,714.3 L600.4,623.0 L601.5,615.2 L602.6,607.1 L604.0,634.2 L605.5,662.6 L606.8,711.3 L608.0,761.2 L610.1,668.8 L611.8,704.7 L613.0,654.2 L614.7,776.3 L616.0,738.7 L617.3,698.0 L619.0,682.4 L620.3,724.3 L621.5,766.3 L622.8,651.3 L624.0,536.4 L625.7,728.8 L626.9,778.2 L628.2,826.9 L629.9,676.2 L631.1,688.6 L632.4,701.5 L634.1,677.9 L636.2,692.6 L638.3,593.8 L639.4,630.0 L640.6,667.6 L641.7,845.6 L643.0,770.3 L644.2,694.0 L645.7,677.0 L647.3,705.3 L648.5,697.6 L649.8,690.4 L651.4,682.9 L653.2,634.8 L654.8,705.5 L655.9,736.4 L657.0,767.1 L659.1,681.2 L660.1,704.9 L662.2,676.6 L663.2,702.8 L664.6,686.7 L666.0,669.4 L667.1,669.3 L668.2,669.0 L669.1,775.1 L671.3,708.5 L672.5,703.9 L674.4,687.3 L676.1,665.4 L677.7,699.0 L679.3,684.3 L681.2,729.7 L682.2,684.6 L683.8,677.5 L685.8,643.3 L687.1,659.4 L688.4,676.2 L690.1,706.4 L691.5,745.2 L692.7,713.2 L693.9,681.4 L695.8,724.1 L697.2,693.7 L698.7,665.5 L700.7,689.7 L701.8,709.2 L703.0,704.6 L704.1,699.3 L705.5,693.8 L706.7,693.1 L708.0,692.9 L709.0,696.1 L710.2,703.5 L711.3,710.9 L712.7,700.6 L714.1,688.7 L716.0,688.9 L717.7,705.3 L719.2,694.4 L720.3,693.0 L721.5,692.2 L722.7,694.7 L724.0,697.2 L725.2,690.9 L726.5,685.3 L727.8,698.6 L729.1,711.1 L730.2,689.8 L731.6,693.9 L732.7,690.7 L734.0,701.8 L735.2,712.7 L736.4,705.5 L737.6,698.2 L739.6,693.4 L741.4,693.2 L743.1,695.7 L745.0,707.0 L746.2,702.2 L747.4,698.1 L748.5,700.3 L749.7,701.6 L751.5,697.2 L753.0,701.0 L754.3,714.9 L756.3,693.9 L757.9,693.1 L759.1,699.9 L760.6,694.2 L762.0,700.3 L763.5,705.7 L765.4,696.5 L766.9,690.5 L767.9,690.8 L769.4,689.0 L770.7,692.2 L772.5,688.4 L774.0,691.1 L774.9,704.3 L776.6,691.3 L777.7,692.8 L778.9,694.4 L780.5,687.4 L781.6,693.7 L783.3,698.2 L785.4,693.3 L786.2,706.0 L787.3,701.2 L788.5,697.8 L789.7,696.6 L791.0,695.1 L792.3,696.9 L793.6,699.3 L795.3,696.0 L796.4,699.0 L797.5,693.9 L798.9,698.4 L800.6,691.7 L800.8,695.3" fill="none" stroke="#1530ff" stroke-width="1.5" stroke-linejoin="round"/><path d="M1041.0,534.6 H1028.0 V848.5 H1041.0" fill="none" stroke="#000" stroke-width="3.2" stroke-linejoin="miter" stroke-linecap="butt"/><path d="M870.7,704.3 V691.3 H1184.7 V704.3" fill="none" stroke="#000" stroke-width="3.2" stroke-linejoin="miter"/><line x1="886.4" y1="691.3" x2="886.4" y2="697.3" stroke="#000" stroke-width="2.4"/><line x1="902.1" y1="691.3" x2="902.1" y2="697.3" stroke="#000" stroke-width="2.4"/><line x1="917.8" y1="691.3" x2="917.8" y2="697.3" stroke="#000" stroke-width="2.4"/><line x1="933.5" y1="691.3" x2="933.5" y2="697.3" stroke="#000" stroke-width="2.4"/><line x1="949.2" y1="691.3" x2="949.2" y2="697.3" stroke="#000" stroke-width="2.4"/><line x1="964.9" y1="691.3" x2="964.9" y2="697.3" stroke="#000" stroke-width="2.4"/><line x1="980.6" y1="691.3" x2="980.6" y2="697.3" stroke="#000" stroke-width="2.4"/><line x1="996.3" y1="691.3" x2="996.3" y2="697.3" stroke="#000" stroke-width="2.4"/><line x1="1012.0" y1="691.3" x2="1012.0" y2="697.3" stroke="#000" stroke-width="2.4"/><line x1="1027.7" y1="691.3" x2="1027.7" y2="697.3" stroke="#000" stroke-width="2.4"/><line x1="1043.4" y1="691.3" x2="1043.4" y2="697.3" stroke="#000" stroke-width="2.4"/><line x1="1059.1" y1="691.3" x2="1059.1" y2="697.3" stroke="#000" stroke-width="2.4"/><line x1="1074.8" y1="691.3" x2="1074.8" y2="697.3" stroke="#000" stroke-width="2.4"/><line x1="1090.5" y1="691.3" x2="1090.5" y2="697.3" stroke="#000" stroke-width="2.4"/><line x1="1106.2" y1="691.3" x2="1106.2" y2="697.3" stroke="#000" stroke-width="2.4"/><line x1="1121.9" y1="691.3" x2="1121.9" y2="697.3" stroke="#000" stroke-width="2.4"/><line x1="1137.6" y1="691.3" x2="1137.6" y2="697.3" stroke="#000" stroke-width="2.4"/><line x1="1153.3" y1="691.3" x2="1153.3" y2="697.3" stroke="#000" stroke-width="2.4"/><line x1="1169.0" y1="691.3" x2="1169.0" y2="697.3" stroke="#000" stroke-width="2.4"/><text x="0.0" y="0.0" font-family="'Liberation Sans', Arial, sans-serif" font-size="24.5" font-weight="bold" text-anchor="start" fill="#000" transform="translate(1042.9,543.5) scale(1,1.035)">200</text><text x="0.0" y="0.0" font-family="'Liberation Sans', Arial, sans-serif" font-size="24.5" font-weight="bold" text-anchor="start" fill="#000" transform="translate(1042.9,857.4) scale(1,1.035)">-200</text><text x="0.0" y="0.0" font-family="'Liberation Sans', Arial, sans-serif" font-size="24.5" font-weight="bold" text-anchor="middle" fill="#000" transform="translate(870.7,728.3) scale(1,1.035)">-0.15</text><text x="0.0" y="0.0" font-family="'Liberation Sans', Arial, sans-serif" font-size="24.5" font-weight="bold" text-anchor="middle" fill="#000" transform="translate(1184.7,728.3) scale(1,1.035)">0.15</text><line x1="991.0" y1="534.6" x2="991.0" y2="832.0" stroke="#0b1480" stroke-width="6.3" stroke-linecap="round" stroke-dasharray="18.4 13.04"/><path d="M870.7,696.3 L872.0,697.5 L873.3,699.3 L874.8,695.3 L876.0,697.7 L877.2,697.6 L878.5,696.8 L880.2,699.1 L881.4,698.6 L882.5,697.6 L884.0,699.0 L885.4,697.5 L886.4,698.8 L887.5,697.0 L889.4,697.3 L891.1,695.3 L892.3,699.3 L894.4,695.0 L895.6,696.6 L897.3,695.4 L899.5,696.4 L900.9,692.6 L902.0,695.2 L903.2,697.0 L904.5,695.0 L905.5,697.1 L907.5,695.2 L909.0,697.9 L910.3,696.9 L911.5,696.5 L913.2,697.0 L914.5,695.0 L916.6,696.9 L918.3,695.0 L919.5,695.3 L920.8,695.4 L922.2,693.7 L923.4,696.9 L924.7,699.0 L926.5,690.3 L928.0,711.3 L929.2,696.3 L930.5,680.3 L932.0,717.3 L934.0,688.3 L936.0,706.3 L937.6,697.0 L939.5,694.8 L941.2,695.5 L942.5,695.3 L943.7,695.2 L944.8,695.4 L946.0,696.0 L947.4,694.3 L948.6,696.1 L949.9,697.3 L951.0,694.8 L952.3,696.4 L953.7,695.2 L955.2,697.5 L956.5,694.7 L957.7,693.8 L959.5,696.1 L960.6,694.7 L961.7,693.8 L962.9,695.3 L964.1,696.5 L965.2,694.9 L966.3,693.1 L968.5,696.0 L969.8,693.5 L971.0,695.3 L972.3,695.9 L973.4,695.9 L974.5,695.5 L976.4,697.5 L977.8,696.8 L978.9,698.8 L980.4,696.4 L981.8,696.7 L983.5,694.7 L984.6,695.3 L985.7,697.1 L987.0,695.7 L988.7,696.3 L989.9,695.3 L991.2,696.5 L992.5,695.5 L993.7,694.5 L995.0,694.2 L996.2,693.9 L998.2,691.0 L999.3,705.1 L1000.4,719.0 L1001.6,707.9 L1002.9,698.2 L1003.8,734.9 L1005.7,695.7 L1006.8,716.6 L1008.0,622.1 L1009.7,691.1 L1011.0,616.1 L1012.3,680.0 L1013.6,744.1 L1015.0,729.0 L1016.4,712.8 L1017.6,695.6 L1018.9,679.2 L1020.3,760.8 L1021.6,729.8 L1022.9,698.0 L1023.7,678.2 L1025.7,709.4 L1027.7,629.4 L1029.2,685.9 L1030.7,743.0 L1032.2,704.3 L1034.1,794.3 L1035.8,757.2 L1037.1,782.4 L1038.0,673.0 L1039.2,711.2 L1040.5,748.7 L1042.1,701.7 L1043.7,655.2 L1045.0,668.6 L1046.1,604.8 L1047.2,542.3 L1049.2,712.6 L1050.9,759.5 L1051.8,695.5 L1053.3,697.2 L1055.1,779.6 L1056.4,757.0 L1057.7,732.4 L1059.5,719.6 L1060.8,700.6 L1062.0,682.0 L1063.2,630.6 L1064.4,579.9 L1065.6,644.9 L1066.8,710.3 L1068.6,811.4 L1069.8,784.9 L1071.1,756.7 L1072.0,791.2 L1073.9,696.4 L1075.9,590.7 L1077.5,695.1 L1078.7,622.1 L1079.9,549.1 L1082.1,585.0 L1084.1,712.5 L1086.0,814.6 L1087.1,782.0 L1088.2,752.3 L1090.1,842.3 L1091.8,777.4 L1092.6,817.9 L1094.4,706.0 L1095.6,619.9 L1096.8,537.3 L1098.2,537.3 L1100.0,723.7 L1101.4,772.5 L1102.7,821.0 L1104.4,809.2 L1105.4,664.6 L1106.9,601.3 L1108.3,539.7 L1110.3,581.8 L1111.5,646.4 L1112.7,706.1 L1114.7,672.2 L1116.2,762.7 L1117.5,754.0 L1118.7,746.7 L1119.8,720.7 L1121.0,694.6 L1121.8,645.7 L1123.2,674.8 L1124.5,715.6 L1125.8,757.6 L1127.5,700.3 L1129.2,678.7 L1131.0,693.5 L1132.2,691.8 L1134.0,689.9 L1135.3,694.4 L1136.7,691.2 L1138.1,699.3 L1139.2,697.0 L1140.4,693.9 L1141.5,692.2 L1143.5,693.3 L1144.7,692.2 L1145.9,691.2 L1146.9,693.1 L1148.6,690.5 L1150.4,694.7 L1152.4,688.4 L1154.0,692.2 L1155.8,693.5 L1157.7,691.0 L1158.8,693.3 L1159.9,694.8 L1161.3,688.0 L1162.5,691.3 L1163.7,695.7 L1165.4,692.4 L1166.5,698.6 L1167.6,706.9 L1168.9,696.1 L1171.0,687.2 L1172.9,693.7 L1174.1,705.7 L1175.2,717.9 L1176.4,704.3 L1177.6,692.2 L1178.5,690.1 L1180.0,682.2 L1181.5,674.1 L1183.0,690.0 L1184.4,706.1 L1184.7,694.3" fill="none" stroke="#1530ff" stroke-width="1.5" stroke-linejoin="round"/><path d="M1482.9,531.5 H1469.9 V845.8 H1482.9" fill="none" stroke="#000" stroke-width="3.2" stroke-linejoin="miter" stroke-linecap="butt"/><path d="M1312.8,701.4 V688.4 H1626.8 V701.4" fill="none" stroke="#000" stroke-width="3.2" stroke-linejoin="miter"/><line x1="1328.5" y1="688.4" x2="1328.5" y2="694.4" stroke="#000" stroke-width="2.4"/><line x1="1344.2" y1="688.4" x2="1344.2" y2="694.4" stroke="#000" stroke-width="2.4"/><line x1="1359.9" y1="688.4" x2="1359.9" y2="694.4" stroke="#000" stroke-width="2.4"/><line x1="1375.6" y1="688.4" x2="1375.6" y2="694.4" stroke="#000" stroke-width="2.4"/><line x1="1391.3" y1="688.4" x2="1391.3" y2="694.4" stroke="#000" stroke-width="2.4"/><line x1="1407.0" y1="688.4" x2="1407.0" y2="694.4" stroke="#000" stroke-width="2.4"/><line x1="1422.7" y1="688.4" x2="1422.7" y2="694.4" stroke="#000" stroke-width="2.4"/><line x1="1438.4" y1="688.4" x2="1438.4" y2="694.4" stroke="#000" stroke-width="2.4"/><line x1="1454.1" y1="688.4" x2="1454.1" y2="694.4" stroke="#000" stroke-width="2.4"/><line x1="1469.8" y1="688.4" x2="1469.8" y2="694.4" stroke="#000" stroke-width="2.4"/><line x1="1485.5" y1="688.4" x2="1485.5" y2="694.4" stroke="#000" stroke-width="2.4"/><line x1="1501.2" y1="688.4" x2="1501.2" y2="694.4" stroke="#000" stroke-width="2.4"/><line x1="1516.9" y1="688.4" x2="1516.9" y2="694.4" stroke="#000" stroke-width="2.4"/><line x1="1532.6" y1="688.4" x2="1532.6" y2="694.4" stroke="#000" stroke-width="2.4"/><line x1="1548.3" y1="688.4" x2="1548.3" y2="694.4" stroke="#000" stroke-width="2.4"/><line x1="1564.0" y1="688.4" x2="1564.0" y2="694.4" stroke="#000" stroke-width="2.4"/><line x1="1579.7" y1="688.4" x2="1579.7" y2="694.4" stroke="#000" stroke-width="2.4"/><line x1="1595.4" y1="688.4" x2="1595.4" y2="694.4" stroke="#000" stroke-width="2.4"/><line x1="1611.1" y1="688.4" x2="1611.1" y2="694.4" stroke="#000" stroke-width="2.4"/><text x="0.0" y="0.0" font-family="'Liberation Sans', Arial, sans-serif" font-size="24.5" font-weight="bold" text-anchor="start" fill="#000" transform="translate(1484.8,540.4) scale(1,1.035)">100</text><text x="0.0" y="0.0" font-family="'Liberation Sans', Arial, sans-serif" font-size="24.5" font-weight="bold" text-anchor="start" fill="#000" transform="translate(1484.8,854.7) scale(1,1.035)">-100</text><text x="0.0" y="0.0" font-family="'Liberation Sans', Arial, sans-serif" font-size="24.5" font-weight="bold" text-anchor="middle" fill="#000" transform="translate(1312.8,725.4) scale(1,1.035)">-0.15</text><text x="0.0" y="0.0" font-family="'Liberation Sans', Arial, sans-serif" font-size="24.5" font-weight="bold" text-anchor="middle" fill="#000" transform="translate(1626.8,725.4) scale(1,1.035)">0.15</text><line x1="1380.8" y1="531.5" x2="1380.8" y2="831.5" stroke="#0b1480" stroke-width="6.3" stroke-linecap="round" stroke-dasharray="18.4 13.04"/><path d="M1312.8,690.4 L1313.7,694.8 L1314.9,692.8 L1316.1,691.3 L1317.2,684.7 L1318.3,677.6 L1320.3,676.9 L1322.4,719.9 L1324.6,687.8 L1325.9,697.9 L1327.3,708.6 L1328.8,677.7 L1330.3,648.1 L1331.5,678.1 L1332.8,709.1 L1333.9,697.2 L1335.0,682.5 L1336.3,693.8 L1337.7,704.9 L1339.8,720.7 L1341.5,758.8 L1342.9,638.5 L1344.6,688.7 L1346.4,707.1 L1347.5,700.9 L1348.6,693.2 L1350.8,681.1 L1352.0,677.8 L1353.1,673.8 L1354.6,656.0 L1355.7,787.3 L1357.7,702.1 L1358.9,669.2 L1360.6,694.3 L1362.3,677.2 L1363.5,693.5 L1364.4,663.2 L1365.7,694.8 L1366.9,726.5 L1368.1,725.5 L1369.3,724.3 L1370.5,694.1 L1372.2,711.6 L1373.1,699.3 L1375.0,696.7 L1376.9,652.0 L1379.1,651.4 L1380.7,778.4 L1382.1,723.2 L1383.5,669.5 L1385.6,682.6 L1387.0,696.5 L1388.4,708.7 L1389.7,701.4 L1391.0,693.7 L1392.9,689.1 L1394.4,689.2 L1396.4,694.6 L1397.5,689.4 L1398.7,707.7 L1399.9,700.8 L1401.0,694.0 L1402.0,685.4 L1403.1,687.0 L1404.3,688.1 L1405.3,701.2 L1406.5,691.0 L1407.5,687.9 L1408.8,691.7 L1410.0,695.3 L1411.7,692.4 L1412.9,697.1 L1414.0,701.8 L1416.1,696.3 L1417.8,681.6 L1419.3,689.9 L1420.9,696.3 L1422.7,718.6 L1424.9,690.3 L1426.9,693.7 L1428.0,688.4 L1429.7,692.0 L1431.4,685.4 L1433.6,688.1 L1435.4,692.6 L1436.9,703.4 L1438.0,694.6 L1439.1,686.9 L1440.7,692.7 L1442.0,691.6 L1443.3,690.5 L1444.9,694.1 L1446.7,680.0 L1448.1,687.6 L1449.9,705.6 L1451.4,691.0 L1452.6,685.9 L1454.0,689.7 L1455.2,687.3 L1456.5,684.0 L1458.4,693.1 L1459.7,707.2 L1460.8,699.0 L1461.9,690.9 L1463.3,691.1 L1464.6,696.2 L1465.8,693.7 L1466.9,691.1 L1468.6,694.3 L1469.8,691.8 L1471.0,689.8 L1472.6,690.8 L1473.8,687.9 L1475.0,696.7 L1476.3,705.7 L1477.5,689.0 L1479.1,683.4 L1480.2,689.9 L1481.5,688.7 L1482.8,686.6 L1484.9,687.7 L1487.1,693.6 L1488.4,689.5 L1489.6,691.2 L1490.7,694.0 L1492.1,702.4 L1493.5,711.0 L1495.0,700.1 L1496.5,689.6 L1498.3,685.0 L1500.0,692.4 L1501.5,684.7 L1503.0,677.7 L1504.9,689.0 L1506.9,700.3 L1507.8,717.6 L1508.9,705.7 L1510.0,692.4 L1511.8,697.3 L1512.9,694.1 L1514.0,691.0 L1515.3,694.0 L1516.7,680.1 L1518.0,686.3 L1519.2,691.0 L1520.3,694.4 L1521.9,689.0 L1522.7,708.0 L1524.0,700.5 L1525.3,694.1 L1526.5,689.0 L1527.7,690.6 L1528.9,692.2 L1530.1,687.0 L1531.5,687.6 L1532.8,687.8 L1534.1,691.6 L1535.6,687.9 L1537.0,692.1 L1538.7,698.5 L1540.5,690.6 L1542.1,696.8 L1544.1,692.3 L1545.2,694.2 L1546.4,695.6 L1547.4,692.9 L1549.4,695.6 L1550.6,689.0 L1551.8,701.5 L1553.5,693.7 L1555.3,683.7 L1557.1,705.6 L1558.9,683.5 L1560.7,683.0 L1562.5,727.9 L1564.2,692.6 L1565.3,676.6 L1567.5,662.4 L1569.6,760.3 L1570.9,732.2 L1572.1,703.6 L1573.2,617.5 L1574.3,653.4 L1575.4,688.9 L1577.3,766.0 L1578.7,693.8 L1580.1,623.1 L1581.5,821.3 L1582.9,683.2 L1585.1,662.8 L1586.2,596.2 L1587.4,689.8 L1588.6,782.1 L1589.7,713.5 L1590.8,644.1 L1592.8,678.5 L1594.0,695.1 L1595.2,711.7 L1596.7,675.8 L1598.1,637.9 L1599.6,655.0 L1601.1,672.3 L1602.3,707.8 L1603.5,741.7 L1605.2,703.0 L1606.7,685.4 L1607.6,682.1 L1609.4,730.1 L1610.6,699.1 L1611.8,668.2 L1613.1,679.8 L1614.3,692.2 L1616.0,675.1 L1617.5,690.8 L1618.9,706.5 L1620.1,685.2 L1621.3,664.2 L1622.5,783.0 L1624.2,662.5 L1625.4,663.1 L1626.7,663.4" fill="none" stroke="#1530ff" stroke-width="1.5" stroke-linejoin="round"/><path d="M244.8,1017.8 H231.8 V1332.0" fill="none" stroke="#000" stroke-width="3.2" stroke-linejoin="miter"/><path d="M74.8,1345.0 V1332.0 H388.4 V1345.0 M231.8,1332.0 V1345.0" fill="none" stroke="#000" stroke-width="3.2" stroke-linejoin="miter"/><text x="0.0" y="0.0" font-family="'Liberation Sans', Arial, sans-serif" font-size="24.5" font-weight="bold" text-anchor="start" fill="#000" transform="translate(246.7,1026.7) scale(1,1.035)">50</text><text x="0.0" y="0.0" font-family="'Liberation Sans', Arial, sans-serif" font-size="24.5" font-weight="bold" text-anchor="middle" fill="#000" transform="translate(74.8,1368.8) scale(1,1.035)">-0.15</text><text x="0.0" y="0.0" font-family="'Liberation Sans', Arial, sans-serif" font-size="24.5" font-weight="bold" text-anchor="middle" fill="#000" transform="translate(231.8,1368.8) scale(1,1.035)">0.00</text><text x="0.0" y="0.0" font-family="'Liberation Sans', Arial, sans-serif" font-size="24.5" font-weight="bold" text-anchor="middle" fill="#000" transform="translate(388.4,1368.8) scale(1,1.035)">0.15</text><line x1="174.8" y1="1017.8" x2="174.8" y2="1333.5" stroke="#0b1480" stroke-width="6.3" stroke-linecap="round" stroke-dasharray="18.4 13.04"/><path d="M74.8,1331.0 L76.2,1330.2 L77.3,1326.3 L78.2,1327.4 L80.0,1331.0 L81.3,1331.0 L82.7,1321.9 L84.4,1315.0 L86.0,1330.0 L87.5,1299.6 L89.0,1329.0 L90.6,1323.3 L92.0,1330.0 L93.6,1331.4 L94.7,1326.3 L95.9,1331.3 L97.6,1325.5 L98.8,1330.0 L99.9,1326.2 L101.5,1331.7 L102.9,1329.7 L104.7,1329.9 L106.1,1321.6 L107.7,1330.4 L108.8,1318.7 L110.1,1303.7 L111.5,1328.0 L112.6,1328.3 L113.7,1289.8 L115.1,1331.5 L116.3,1314.6 L117.3,1328.4 L118.9,1327.8 L120.1,1328.1 L121.9,1328.9 L123.0,1287.2 L124.8,1322.0 L126.6,1289.3 L127.8,1317.0 L129.2,1303.7 L131.0,1327.0 L132.9,1330.0 L133.8,1305.2 L135.9,1287.2 L137.9,1328.4 L139.4,1330.9 L140.4,1315.2 L141.9,1330.5 L143.1,1308.8 L145.1,1324.3 L146.9,1329.9 L147.9,1324.1 L149.7,1331.4 L151.2,1322.2 L152.3,1322.2 L153.9,1329.9 L155.7,1321.7 L156.6,1328.2 L158.1,1320.4 L159.5,1330.9 L160.6,1288.8 L162.5,1324.0 L164.2,1284.7 L165.9,1331.4 L167.8,1328.4 L168.9,1329.2 L169.9,1327.1 L171.7,1330.2 L173.2,1322.7 L175.0,1301.6 L177.0,1329.0 L178.6,1331.2 L179.8,1317.6 L181.1,1328.3 L182.2,1292.9 L184.0,1327.0 L185.5,1327.3 L186.7,1312.2 L187.8,1297.0 L190.0,1328.0 L191.5,1329.9 L193.0,1284.7 L195.0,1324.0 L196.4,1331.5 L197.9,1322.2 L199.1,1281.6 L200.7,1320.2 L202.7,1242.5 L204.8,1317.1 L206.0,1326.9 L207.8,1309.8 L209.4,1226.5 L211.0,1330.0 L212.0,1328.4 L213.7,1321.3 L215.6,1278.0 L217.5,1320.0 L219.2,1265.1 L220.2,1323.6 L221.8,1326.3 L222.9,1330.4 L223.8,1313.8 L225.1,1310.4 L226.4,1307.8 L228.0,1326.0 L229.8,1308.8 L230.5,1329.4 L232.4,1330.5 L233.5,1315.0 L234.6,1298.6 L236.0,1331.2 L236.9,1300.5 L238.0,1328.0 L239.0,1325.5 L240.0,1319.7 L241.4,1224.4 L242.8,1305.3 L244.6,1241.7 L246.0,1312.0 L247.6,1254.1 L248.9,1331.1 L250.1,1325.2 L251.2,1328.4 L252.9,1299.3 L254.5,1324.0 L256.5,1302.9 L258.1,1326.9 L259.5,1330.2 L261.6,1111.5 L263.6,1327.8 L264.9,1316.0 L266.6,1221.4 L268.2,1321.1 L269.6,1302.9 L271.4,1330.2 L272.3,1321.3 L274.3,1256.5 L275.5,1292.0 L277.3,1231.6 L278.5,1319.6 L279.7,1262.5 L281.2,1330.4 L282.2,1265.9 L283.2,1330.2 L284.8,1323.7 L286.6,1152.5 L288.2,1330.9 L289.2,1314.8 L290.4,1227.4 L292.2,1282.7 L293.3,1326.5 L294.2,1299.1 L295.4,1327.7 L296.3,1260.1 L297.3,1331.3 L298.7,1320.7 L299.9,1327.2 L301.1,1296.9 L303.0,1324.0 L304.5,1327.6 L305.8,1281.5 L307.0,1331.0 L308.2,1326.7 L310.1,1329.4 L311.5,1277.9 L312.7,1328.1 L314.3,1311.9 L315.3,1327.8 L316.7,1328.9 L317.8,1303.6 L318.9,1267.8 L320.7,1321.9 L322.5,1263.6 L324.0,1302.0 L326.0,1277.9 L327.6,1327.7 L328.7,1309.7 L329.6,1297.5 L330.8,1309.4 L332.0,1320.7 L333.3,1331.1 L334.7,1315.7 L336.0,1327.0 L337.0,1328.9 L338.7,1314.1 L339.7,1300.5 L341.5,1326.0 L342.9,1328.8 L343.9,1307.6 L345.5,1326.0 L347.4,1304.1 L349.0,1327.0 L351.0,1298.1 L352.3,1330.7 L353.4,1321.9 L355.2,1330.6 L356.5,1326.3 L357.8,1330.8 L359.1,1330.2 L360.9,1331.0 L362.4,1328.1 L363.4,1331.1 L365.2,1328.1 L366.9,1330.9 L368.5,1330.5 L369.6,1331.7 L370.9,1331.0 L371.9,1331.1 L373.8,1330.7 L375.5,1331.4 L377.3,1330.3 L378.2,1331.7 L379.5,1324.3 L380.8,1331.6 L381.8,1329.1 L383.2,1331.7 L384.7,1328.4 L386.7,1325.5 L388.4,1331.0" fill="none" stroke="#e42a22" stroke-width="1.5" stroke-linejoin="round"/><path d="M74.9,1318.7 L75.9,1318.7 L76.9,1318.6 L77.9,1318.6 L78.9,1318.5 L79.9,1318.5 L80.9,1318.4 L81.9,1318.4 L82.9,1318.3 L83.9,1318.3 L84.9,1318.2 L85.9,1318.2 L86.9,1318.1 L87.9,1318.1 L88.9,1318.0 L89.9,1318.0 L90.9,1317.9 L91.9,1317.9 L92.9,1317.8 L93.9,1317.7 L94.9,1317.7 L95.9,1317.6 L96.9,1317.5 L97.9,1317.5 L98.9,1317.4 L99.9,1317.3 L100.9,1317.3 L101.9,1317.2 L102.9,1317.1 L103.9,1317.1 L104.9,1317.0 L105.9,1316.9 L106.9,1316.8 L107.9,1316.8 L108.9,1316.7 L109.9,1316.6 L110.9,1316.5 L111.9,1316.4 L112.9,1316.3 L113.9,1316.3 L114.9,1316.2 L115.9,1316.1 L116.9,1316.0 L117.9,1315.9 L118.9,1315.8 L119.9,1315.7 L120.9,1315.6 L121.9,1315.5 L122.9,1315.4 L123.9,1315.3 L124.9,1315.2 L125.9,1315.1 L126.9,1315.0 L127.9,1314.9 L128.9,1314.8 L129.9,1314.7 L130.9,1314.6 L131.9,1314.5 L132.9,1314.3 L133.9,1314.2 L134.9,1314.1 L135.9,1314.0 L136.9,1313.9 L137.9,1313.8 L138.9,1313.6 L139.9,1313.5 L140.9,1313.4 L141.9,1313.3 L142.9,1313.1 L143.9,1313.0 L144.9,1312.9 L145.9,1312.7 L146.9,1312.6 L147.9,1312.5 L148.9,1312.3 L149.9,1312.2 L150.9,1312.1 L151.9,1311.9 L152.9,1311.8 L153.9,1311.6 L154.9,1311.5 L155.9,1311.3 L156.9,1311.2 L157.9,1311.0 L158.9,1310.9 L159.9,1310.7 L160.9,1310.6 L161.9,1310.4 L162.9,1310.3 L163.9,1310.1 L164.9,1310.0 L165.9,1309.8 L166.9,1309.6 L167.9,1309.5 L168.9,1309.3 L169.9,1309.1 L170.9,1309.0 L171.9,1308.8 L172.9,1308.6 L173.9,1308.4 L174.9,1308.3 L175.9,1308.1 L176.9,1307.9 L177.9,1307.7 L178.9,1307.5 L179.9,1307.3 L180.9,1307.1 L181.9,1307.0 L182.9,1306.8 L183.9,1306.6 L184.9,1306.4 L185.9,1306.2 L186.9,1306.0 L187.9,1305.8 L188.9,1305.6 L189.9,1305.4 L190.9,1305.1 L191.9,1304.9 L192.9,1304.7 L193.9,1304.5 L194.9,1304.3 L195.9,1304.0 L196.9,1303.8 L197.9,1303.6 L198.9,1303.3 L199.9,1303.1 L200.9,1302.8 L201.9,1302.6 L202.9,1302.4 L203.9,1302.1 L204.9,1301.8 L205.9,1301.6 L206.9,1301.3 L207.9,1301.0 L208.9,1300.8 L209.9,1300.5 L210.9,1300.2 L211.9,1299.9 L212.9,1299.6 L213.9,1299.3 L214.9,1299.1 L215.9,1298.7 L216.9,1298.4 L217.9,1298.1 L218.9,1297.8 L219.9,1297.5 L220.9,1297.2 L221.9,1296.8 L222.9,1296.5 L223.9,1296.2 L224.9,1295.9 L225.9,1295.5 L226.9,1295.2 L227.9,1294.9 L228.9,1294.5 L229.9,1294.2 L230.9,1293.9 L231.9,1293.5 L232.9,1293.2 L233.9,1292.9 L234.9,1292.6 L235.9,1292.3 L236.9,1292.0 L237.9,1291.7 L238.9,1291.4 L239.9,1291.1 L240.9,1290.8 L241.9,1290.5 L242.9,1290.2 L243.9,1290.0 L244.9,1289.7 L245.9,1289.5 L246.9,1289.3 L247.9,1289.0 L248.9,1288.8 L249.9,1288.6 L250.9,1288.4 L251.9,1288.3 L252.9,1288.1 L253.9,1287.9 L254.9,1287.8 L255.9,1287.7 L256.9,1287.6 L257.9,1287.5 L258.9,1287.4 L259.9,1287.3 L260.9,1287.2 L261.9,1287.2 L262.9,1287.1 L263.9,1287.1 L264.9,1287.1 L265.9,1287.1 L266.9,1287.1 L267.9,1287.1 L268.9,1287.1 L269.9,1287.1 L270.9,1287.2 L271.9,1287.2 L272.9,1287.3 L273.9,1287.4 L274.9,1287.5 L275.9,1287.6 L276.9,1287.7 L277.9,1287.8 L278.9,1287.9 L279.9,1288.0 L280.9,1288.2 L281.9,1288.3 L282.9,1288.5 L283.9,1288.7 L284.9,1288.9 L285.9,1289.1 L286.9,1289.3 L287.9,1289.5 L288.9,1289.7 L289.9,1289.9 L290.9,1290.2 L291.9,1290.4 L292.9,1290.7 L293.9,1291.0 L294.9,1291.2 L295.9,1291.5 L296.9,1291.8 L297.9,1292.1 L298.9,1292.4 L299.9,1292.8 L300.9,1293.1 L301.9,1293.4 L302.9,1293.8 L303.9,1294.1 L304.9,1294.5 L305.9,1294.8 L306.9,1295.2 L307.9,1295.6 L308.9,1296.0 L309.9,1296.4 L310.9,1296.8 L311.9,1297.2 L312.9,1297.6 L313.9,1298.1 L314.9,1298.5 L315.9,1298.9 L316.9,1299.4 L317.9,1299.8 L318.9,1300.3 L319.9,1300.8 L320.9,1301.2 L321.9,1301.7 L322.9,1302.2 L323.9,1302.7 L324.9,1303.1 L325.9,1303.6 L326.9,1304.1 L327.9,1304.6 L328.9,1305.1 L329.9,1305.6 L330.9,1306.1 L331.9,1306.6 L332.9,1307.1 L333.9,1307.6 L334.9,1308.1 L335.9,1308.5 L336.9,1309.0 L337.9,1309.5 L338.9,1310.0 L339.9,1310.5 L340.9,1310.9 L341.9,1311.4 L342.9,1311.8 L343.9,1312.3 L344.9,1312.7 L345.9,1313.2 L346.9,1313.6 L347.9,1314.0 L348.9,1314.5 L349.9,1314.9 L350.9,1315.3 L351.9,1315.6 L352.9,1316.0 L353.9,1316.4 L354.9,1316.7 L355.9,1317.1 L356.9,1317.4 L357.9,1317.7 L358.9,1318.0 L359.9,1318.3 L360.9,1318.6 L361.9,1318.9 L362.9,1319.1 L363.9,1319.4 L364.9,1319.6 L365.9,1319.8 L366.9,1319.9 L367.9,1320.1 L368.9,1320.3 L369.9,1320.4 L370.9,1320.5 L371.9,1320.6 L372.9,1320.7 L373.9,1320.7 L374.9,1320.7 L375.9,1320.8 L376.9,1320.7 L377.9,1320.7 L378.9,1320.6 L379.9,1320.6 L380.9,1320.5 L381.9,1320.3 L382.9,1320.2 L383.9,1320.0 L384.9,1319.8 L385.9,1319.6 L386.9,1319.3 L387.9,1319.0 L388.7,1318.8" fill="none" stroke="#461950" stroke-width="6.3" stroke-linecap="round"/><path d="M656.4,1017.8 H643.4 V1332.0" fill="none" stroke="#000" stroke-width="3.2" stroke-linejoin="miter"/><path d="M486.0,1345.0 V1332.0 H800.8 V1345.0 M643.4,1332.0 V1345.0" fill="none" stroke="#000" stroke-width="3.2" stroke-linejoin="miter"/><text x="0.0" y="0.0" font-family="'Liberation Sans', Arial, sans-serif" font-size="24.5" font-weight="bold" text-anchor="start" fill="#000" transform="translate(658.3,1026.7) scale(1,1.035)">100</text><text x="0.0" y="0.0" font-family="'Liberation Sans', Arial, sans-serif" font-size="24.5" font-weight="bold" text-anchor="middle" fill="#000" transform="translate(486.0,1368.8) scale(1,1.035)">-0.15</text><text x="0.0" y="0.0" font-family="'Liberation Sans', Arial, sans-serif" font-size="24.5" font-weight="bold" text-anchor="middle" fill="#000" transform="translate(643.4,1368.8) scale(1,1.035)">0.00</text><text x="0.0" y="0.0" font-family="'Liberation Sans', Arial, sans-serif" font-size="24.5" font-weight="bold" text-anchor="middle" fill="#000" transform="translate(800.8,1368.8) scale(1,1.035)">0.15</text><line x1="591.3" y1="1017.8" x2="591.3" y2="1333.5" stroke="#0b1480" stroke-width="6.3" stroke-linecap="round" stroke-dasharray="18.4 13.04"/><path d="M486.0,1331.0 L487.7,1331.7 L489.1,1329.3 L491.0,1330.5 L492.6,1330.3 L493.8,1322.9 L494.9,1313.7 L496.5,1328.0 L498.0,1310.6 L499.5,1327.0 L501.1,1313.7 L502.5,1329.0 L504.4,1289.5 L506.0,1327.0 L507.3,1309.6 L508.6,1327.5 L509.6,1325.8 L510.7,1330.4 L512.6,1328.6 L513.6,1331.7 L514.5,1311.1 L515.8,1328.0 L517.0,1312.1 L519.0,1329.0 L520.3,1329.6 L521.2,1310.6 L522.7,1329.7 L523.6,1324.5 L525.1,1331.7 L526.7,1330.0 L527.8,1318.8 L529.5,1331.7 L530.8,1330.6 L532.3,1331.5 L533.5,1326.8 L534.8,1331.3 L536.2,1330.0 L537.8,1330.7 L539.4,1326.9 L540.8,1331.0 L542.3,1328.3 L543.3,1303.9 L544.7,1328.7 L545.8,1328.9 L546.9,1328.1 L548.2,1330.2 L549.1,1328.2 L550.8,1306.5 L551.9,1315.8 L553.0,1327.0 L554.2,1331.7 L555.6,1284.9 L557.1,1327.3 L558.7,1328.1 L559.7,1326.1 L561.5,1324.7 L562.7,1317.4 L563.9,1308.5 L565.5,1328.0 L567.5,1315.7 L569.5,1329.0 L571.2,1330.2 L572.1,1315.7 L573.8,1331.3 L575.6,1326.4 L576.6,1330.9 L578.4,1329.6 L579.6,1331.7 L581.1,1328.1 L582.9,1330.6 L584.4,1328.5 L585.7,1330.6 L587.5,1327.0 L589.1,1331.3 L590.2,1328.1 L591.5,1331.3 L592.7,1330.0 L593.6,1330.7 L594.9,1327.5 L595.9,1331.7 L597.8,1330.7 L599.0,1330.8 L600.4,1327.3 L601.8,1331.7 L603.0,1325.6 L605.0,1318.8 L607.0,1329.0 L608.8,1331.6 L610.2,1308.5 L612.0,1328.0 L613.8,1316.8 L614.9,1329.9 L616.0,1329.0 L617.0,1329.3 L617.9,1329.1 L618.9,1315.7 L620.5,1329.0 L622.0,1315.7 L623.8,1328.8 L625.0,1328.0 L626.0,1330.9 L627.4,1327.8 L628.2,1304.4 L629.8,1324.0 L631.3,1299.3 L633.0,1327.0 L634.9,1278.7 L636.9,1328.1 L638.8,1331.1 L640.5,1290.0 L641.9,1330.1 L642.9,1288.7 L644.6,1303.4 L646.2,1322.2 L647.3,1328.0 L648.8,1253.0 L649.4,1253.5 L650.4,1325.0 L651.9,1322.2 L653.6,1330.3 L655.2,1249.5 L656.8,1322.2 L658.3,1324.5 L659.2,1220.0 L660.9,1324.1 L662.2,1150.6 L663.1,1328.8 L665.0,1309.9 L666.2,1278.8 L667.4,1249.5 L668.7,1327.9 L670.7,1322.2 L672.1,1331.2 L674.0,1221.7 L675.9,1325.5 L678.0,1019.0 L679.4,1326.7 L680.2,1329.5 L681.2,1318.3 L683.0,1107.3 L684.7,1314.4 L685.8,1309.0 L687.0,1303.4 L688.4,1325.7 L690.3,1233.1 L691.9,1303.4 L693.1,1320.1 L694.9,1129.3 L696.0,1309.9 L697.3,1329.4 L698.5,1162.0 L699.8,1329.5 L701.7,1060.7 L703.7,1132.6 L705.8,1239.6 L707.0,1282.9 L708.3,1325.5 L710.4,1120.3 L712.4,1174.3 L713.6,1250.1 L714.8,1325.5 L716.5,1282.1 L718.1,1331.0 L719.7,1327.9 L721.0,1313.5 L722.2,1313.0 L723.6,1316.7 L724.6,1181.6 L726.3,1303.4 L727.4,1314.7 L728.7,1172.6 L730.1,1328.3 L731.5,1267.3 L732.8,1327.9 L734.1,1328.3 L735.1,1313.1 L736.0,1282.0 L738.0,1322.0 L739.0,1330.0 L740.0,1315.2 L741.0,1231.5 L741.9,1322.2 L743.4,1311.4 L744.2,1326.3 L745.8,1322.2 L747.6,1302.2 L749.1,1231.5 L750.9,1321.6 L752.0,1288.7 L753.2,1255.2 L754.5,1330.1 L755.7,1321.4 L756.8,1330.5 L758.0,1302.0 L759.3,1328.6 L760.6,1329.5 L762.0,1328.7 L763.9,1293.6 L766.0,1324.0 L767.5,1330.0 L768.8,1300.1 L770.5,1326.0 L771.6,1314.3 L772.8,1300.9 L773.8,1329.1 L775.0,1329.6 L776.1,1330.4 L777.3,1328.0 L779.4,1270.7 L780.3,1325.7 L781.4,1317.6 L782.7,1330.4 L783.5,1326.3 L784.7,1311.0 L785.9,1295.2 L788.0,1324.0 L789.6,1325.4 L791.6,1260.1 L793.3,1327.9 L794.9,1327.9 L796.6,1331.1 L798.2,1268.3 L799.8,1305.0 L800.8,1331.0" fill="none" stroke="#e42a22" stroke-width="1.5" stroke-linejoin="round"/><path d="M487.0,1322.3 L488.0,1322.4 L489.0,1322.4 L490.0,1322.5 L491.0,1322.6 L492.0,1322.6 L493.0,1322.7 L494.0,1322.7 L495.0,1322.8 L496.0,1322.9 L497.0,1322.9 L498.0,1323.0 L499.0,1323.0 L500.0,1323.1 L501.0,1323.1 L502.0,1323.2 L503.0,1323.2 L504.0,1323.3 L505.0,1323.3 L506.0,1323.3 L507.0,1323.4 L508.0,1323.4 L509.0,1323.5 L510.0,1323.5 L511.0,1323.5 L512.0,1323.6 L513.0,1323.6 L514.0,1323.6 L515.0,1323.6 L516.0,1323.7 L517.0,1323.7 L518.0,1323.7 L519.0,1323.7 L520.0,1323.8 L521.0,1323.8 L522.0,1323.8 L523.0,1323.8 L524.0,1323.8 L525.0,1323.9 L526.0,1323.9 L527.0,1323.9 L528.0,1323.9 L529.0,1323.9 L530.0,1323.9 L531.0,1323.9 L532.0,1323.9 L533.0,1323.9 L534.0,1323.9 L535.0,1323.9 L536.0,1323.9 L537.0,1323.9 L538.0,1323.9 L539.0,1323.9 L540.0,1323.9 L541.0,1323.9 L542.0,1323.9 L543.0,1323.8 L544.0,1323.8 L545.0,1323.8 L546.0,1323.8 L547.0,1323.8 L548.0,1323.8 L549.0,1323.7 L550.0,1323.7 L551.0,1323.7 L552.0,1323.6 L553.0,1323.6 L554.0,1323.6 L555.0,1323.6 L556.0,1323.5 L557.0,1323.5 L558.0,1323.4 L559.0,1323.4 L560.0,1323.4 L561.0,1323.3 L562.0,1323.3 L563.0,1323.2 L564.0,1323.2 L565.0,1323.1 L566.0,1323.1 L567.0,1323.0 L568.0,1323.0 L569.0,1322.9 L570.0,1322.9 L571.0,1322.8 L572.0,1322.7 L573.0,1322.7 L574.0,1322.6 L575.0,1322.5 L576.0,1322.5 L577.0,1322.4 L578.0,1322.3 L579.0,1322.2 L580.0,1322.0 L581.0,1321.9 L582.0,1321.8 L583.0,1321.6 L584.0,1321.5 L585.0,1321.3 L586.0,1321.1 L587.0,1320.9 L588.0,1320.6 L589.0,1320.4 L590.0,1320.1 L591.0,1319.8 L592.0,1319.5 L593.0,1319.2 L594.0,1318.8 L595.0,1318.5 L596.0,1318.1 L597.0,1317.6 L598.0,1317.2 L599.0,1316.8 L600.0,1316.3 L601.0,1315.8 L602.0,1315.3 L603.0,1314.7 L604.0,1314.2 L605.0,1313.6 L606.0,1313.0 L607.0,1312.4 L608.0,1311.8 L609.0,1311.2 L610.0,1310.5 L611.0,1309.9 L612.0,1309.2 L613.0,1308.5 L614.0,1307.8 L615.0,1307.0 L616.0,1306.3 L617.0,1305.6 L618.0,1304.8 L619.0,1304.0 L620.0,1303.2 L621.0,1302.4 L622.0,1301.6 L623.0,1300.8 L624.0,1299.9 L625.0,1299.1 L626.0,1298.2 L627.0,1297.4 L628.0,1296.5 L629.0,1295.6 L630.0,1294.7 L631.0,1293.8 L632.0,1292.9 L633.0,1292.0 L634.0,1291.1 L635.0,1290.1 L636.0,1289.2 L637.0,1288.2 L638.0,1287.3 L639.0,1286.3 L640.0,1285.4 L641.0,1284.4 L642.0,1283.4 L643.0,1282.4 L644.0,1281.5 L645.0,1280.5 L646.0,1279.5 L647.0,1278.5 L648.0,1277.5 L649.0,1276.5 L650.0,1275.5 L651.0,1274.5 L652.0,1273.5 L653.0,1272.5 L654.0,1271.5 L655.0,1270.5 L656.0,1269.5 L657.0,1268.5 L658.0,1267.5 L659.0,1266.5 L660.0,1265.6 L661.0,1264.6 L662.0,1263.6 L663.0,1262.6 L664.0,1261.7 L665.0,1260.7 L666.0,1259.8 L667.0,1258.9 L668.0,1257.9 L669.0,1257.0 L670.0,1256.2 L671.0,1255.3 L672.0,1254.4 L673.0,1253.6 L674.0,1252.8 L675.0,1252.0 L676.0,1251.2 L677.0,1250.5 L678.0,1249.7 L679.0,1249.0 L680.0,1248.4 L681.0,1247.7 L682.0,1247.1 L683.0,1246.5 L684.0,1246.0 L685.0,1245.4 L686.0,1244.9 L687.0,1244.5 L688.0,1244.1 L689.0,1243.7 L690.0,1243.3 L691.0,1243.0 L692.0,1242.7 L693.0,1242.5 L694.0,1242.3 L695.0,1242.1 L696.0,1242.0 L697.0,1242.0 L698.0,1242.0 L699.0,1242.0 L700.0,1242.1 L701.0,1242.2 L702.0,1242.3 L703.0,1242.5 L704.0,1242.7 L705.0,1243.0 L706.0,1243.3 L707.0,1243.6 L708.0,1243.9 L709.0,1244.3 L710.0,1244.7 L711.0,1245.1 L712.0,1245.6 L713.0,1246.1 L714.0,1246.6 L715.0,1247.1 L716.0,1247.6 L717.0,1248.1 L718.0,1248.7 L719.0,1249.3 L720.0,1249.9 L721.0,1250.4 L722.0,1251.0 L723.0,1251.7 L724.0,1252.3 L725.0,1252.9 L726.0,1253.5 L727.0,1254.1 L728.0,1254.7 L729.0,1255.4 L730.0,1256.0 L731.0,1256.6 L732.0,1257.3 L733.0,1257.9 L734.0,1258.5 L735.0,1259.2 L736.0,1259.8 L737.0,1260.4 L738.0,1261.1 L739.0,1261.7 L740.0,1262.3 L741.0,1263.0 L742.0,1263.6 L743.0,1264.2 L744.0,1264.8 L745.0,1265.4 L746.0,1266.1 L747.0,1266.7 L748.0,1267.3 L749.0,1267.9 L750.0,1268.5 L751.0,1269.1 L752.0,1269.7 L753.0,1270.3 L754.0,1270.8 L755.0,1271.4 L756.0,1272.0 L757.0,1272.5 L758.0,1273.1 L759.0,1273.6 L760.0,1274.2 L761.0,1274.7 L762.0,1275.2 L763.0,1275.7 L764.0,1276.2 L765.0,1276.7 L766.0,1277.2 L767.0,1277.7 L768.0,1278.1 L769.0,1278.6 L770.0,1279.0 L771.0,1279.4 L772.0,1279.9 L773.0,1280.3 L774.0,1280.7 L775.0,1281.0 L776.0,1281.4 L777.0,1281.8 L778.0,1282.1 L779.0,1282.4 L780.0,1282.7 L781.0,1283.0 L782.0,1283.3 L783.0,1283.6 L784.0,1283.8 L785.0,1284.0 L786.0,1284.3 L787.0,1284.5 L788.0,1284.6 L789.0,1284.8 L790.0,1285.0 L791.0,1285.1 L792.0,1285.2 L793.0,1285.3 L794.0,1285.4 L795.0,1285.4 L796.0,1285.5 L797.0,1285.5 L798.0,1285.5 L799.0,1285.4 L799.6,1285.4" fill="none" stroke="#461950" stroke-width="6.3" stroke-linecap="round"/><path d="M1055.6,1017.8 H1042.6 V1332.0" fill="none" stroke="#000" stroke-width="3.2" stroke-linejoin="miter"/><path d="M885.7,1345.0 V1332.0 H1200.0 V1345.0 M1042.6,1332.0 V1345.0" fill="none" stroke="#000" stroke-width="3.2" stroke-linejoin="miter"/><text x="0.0" y="0.0" font-family="'Liberation Sans', Arial, sans-serif" font-size="24.5" font-weight="bold" text-anchor="start" fill="#000" transform="translate(1057.5,1026.7) scale(1,1.035)">200</text><text x="0.0" y="0.0" font-family="'Liberation Sans', Arial, sans-serif" font-size="24.5" font-weight="bold" text-anchor="middle" fill="#000" transform="translate(885.7,1368.8) scale(1,1.035)">-0.15</text><text x="0.0" y="0.0" font-family="'Liberation Sans', Arial, sans-serif" font-size="24.5" font-weight="bold" text-anchor="middle" fill="#000" transform="translate(1042.6,1368.8) scale(1,1.035)">0.00</text><text x="0.0" y="0.0" font-family="'Liberation Sans', Arial, sans-serif" font-size="24.5" font-weight="bold" text-anchor="middle" fill="#000" transform="translate(1200.0,1368.8) scale(1,1.035)">0.15</text><line x1="1023.7" y1="1017.8" x2="1023.7" y2="1333.5" stroke="#0b1480" stroke-width="6.3" stroke-linecap="round" stroke-dasharray="18.4 13.04"/><path d="M885.7,1331.0 L887.5,1331.3 L889.1,1328.2 L890.1,1331.7 L891.3,1328.3 L893.2,1331.4 L894.6,1331.0 L895.9,1331.4 L897.2,1328.5 L899.0,1331.4 L900.7,1328.3 L902.5,1331.4 L903.6,1329.4 L905.4,1331.6 L906.9,1328.2 L908.4,1331.1 L910.1,1329.3 L911.0,1331.6 L912.4,1329.8 L914.1,1331.4 L915.9,1330.1 L917.0,1327.0 L918.5,1331.6 L920.1,1329.4 L921.5,1331.7 L922.5,1330.4 L923.7,1331.7 L924.6,1328.1 L925.8,1331.2 L927.2,1330.4 L928.2,1331.3 L929.3,1328.7 L930.4,1331.1 L931.4,1331.1 L932.3,1331.3 L933.6,1329.3 L935.1,1330.9 L936.0,1330.2 L937.5,1330.9 L939.3,1330.6 L940.7,1331.0 L942.2,1331.0 L943.9,1331.3 L945.8,1328.7 L946.7,1330.9 L948.6,1326.0 L950.2,1331.7 L952.0,1330.6 L953.9,1331.2 L955.3,1329.2 L957.2,1331.7 L958.6,1330.0 L960.0,1331.1 L961.0,1330.9 L961.9,1331.7 L963.5,1328.3 L965.1,1331.7 L966.4,1328.0 L967.4,1331.6 L968.5,1330.2 L970.3,1331.7 L972.0,1330.3 L973.5,1331.5 L974.7,1329.0 L976.4,1330.9 L977.6,1328.6 L979.0,1331.0 L980.1,1328.0 L981.1,1331.1 L982.9,1330.7 L984.4,1331.7 L985.5,1330.9 L987.2,1331.7 L988.8,1330.0 L990.0,1324.0 L991.0,1331.4 L992.3,1331.2 L993.7,1331.1 L995.5,1328.3 L997.1,1331.1 L998.4,1330.6 L999.6,1330.9 L1000.8,1329.4 L1001.8,1331.7 L1003.7,1329.4 L1005.4,1331.7 L1007.3,1329.1 L1008.4,1331.7 L1009.9,1330.9 L1010.8,1331.0 L1012.7,1329.6 L1014.2,1331.7 L1015.2,1331.0 L1017.0,1331.2 L1018.7,1329.1 L1019.6,1328.0 L1021.1,1331.3 L1022.9,1320.1 L1024.5,1318.1 L1025.4,1326.5 L1026.9,1321.3 L1027.8,1283.8 L1029.3,1327.6 L1030.2,1326.3 L1031.7,1329.5 L1032.9,1328.7 L1034.7,1330.3 L1035.7,1326.1 L1037.3,1331.0 L1038.8,1330.2 L1040.6,1331.5 L1042.4,1330.0 L1044.2,1330.9 L1046.0,1330.0 L1047.9,1330.5 L1049.6,1328.7 L1050.7,1330.9 L1051.9,1329.4 L1053.1,1331.4 L1054.9,1329.5 L1056.4,1326.5 L1057.2,1329.5 L1058.9,1326.2 L1060.2,1243.7 L1061.8,1324.6 L1062.9,1329.5 L1064.3,1329.8 L1065.3,1321.2 L1066.2,1207.8 L1067.1,1328.9 L1068.6,1309.9 L1069.9,1320.6 L1071.1,1283.8 L1072.7,1292.0 L1073.8,1325.4 L1075.2,1330.4 L1076.3,1320.8 L1077.6,1233.9 L1079.3,1316.5 L1081.4,1131.0 L1083.1,1314.2 L1084.2,1325.5 L1085.2,1319.2 L1086.6,1244.6 L1087.8,1315.4 L1089.1,1325.5 L1091.2,1181.6 L1093.2,1296.9 L1095.1,1041.9 L1096.2,1297.5 L1097.3,1108.9 L1098.9,1318.1 L1099.7,1144.8 L1101.3,1247.8 L1103.3,1019.0 L1105.4,1309.9 L1107.1,1220.0 L1108.2,1331.1 L1109.5,1322.2 L1110.6,1325.2 L1112.8,1287.0 L1114.4,1312.2 L1116.0,1311.6 L1118.0,1083.6 L1119.1,1312.3 L1121.0,1327.1 L1122.9,1019.0 L1125.0,1308.3 L1126.5,1298.2 L1127.5,1324.6 L1129.0,1329.1 L1130.8,1285.4 L1132.2,1331.1 L1133.1,1320.6 L1134.4,1329.0 L1135.6,1326.6 L1136.5,1327.9 L1138.2,1331.7 L1139.8,1325.8 L1140.9,1331.7 L1142.4,1325.9 L1143.8,1323.0 L1144.7,1330.2 L1146.3,1319.6 L1147.9,1298.5 L1148.9,1328.4 L1150.4,1329.5 L1151.4,1329.0 L1152.8,1303.4 L1154.1,1329.5 L1155.3,1304.2 L1156.3,1330.2 L1157.7,1329.5 L1158.9,1328.8 L1160.6,1329.7 L1161.9,1330.4 L1162.9,1326.9 L1164.0,1330.5 L1165.1,1313.2 L1166.8,1331.7 L1168.5,1328.7 L1169.6,1329.6 L1170.6,1321.0 L1171.6,1329.6 L1172.8,1328.8 L1174.1,1303.4 L1175.5,1329.1 L1176.5,1329.5 L1177.8,1331.3 L1179.8,1323.0 L1181.6,1329.9 L1182.9,1329.8 L1184.3,1331.7 L1185.8,1328.9 L1186.7,1330.9 L1188.0,1326.3 L1189.3,1330.8 L1190.6,1326.0 L1192.3,1330.9 L1193.9,1325.7 L1196.1,1327.9 L1197.1,1330.3 L1198.8,1329.0 L1200.0,1331.0" fill="none" stroke="#e42a22" stroke-width="1.5" stroke-linejoin="round"/><path d="M885.9,1329.2 L886.9,1329.2 L887.9,1329.2 L888.9,1329.1 L889.9,1329.1 L890.9,1329.1 L891.9,1329.1 L892.9,1329.1 L893.9,1329.1 L894.9,1329.1 L895.9,1329.1 L896.9,1329.1 L897.9,1329.1 L898.9,1329.1 L899.9,1329.1 L900.9,1329.1 L901.9,1329.1 L902.9,1329.2 L903.9,1329.2 L904.9,1329.2 L905.9,1329.2 L906.9,1329.3 L907.9,1329.3 L908.9,1329.4 L909.9,1329.4 L910.9,1329.4 L911.9,1329.5 L912.9,1329.5 L913.9,1329.6 L914.9,1329.6 L915.9,1329.7 L916.9,1329.7 L917.9,1329.8 L918.9,1329.9 L919.9,1329.9 L920.9,1330.0 L921.9,1330.0 L922.9,1330.1 L923.9,1330.1 L924.9,1330.2 L925.9,1330.3 L926.9,1330.3 L927.9,1330.4 L928.9,1330.4 L929.9,1330.5 L930.9,1330.6 L931.9,1330.6 L932.9,1330.7 L933.9,1330.7 L934.9,1330.8 L935.9,1330.8 L936.9,1330.9 L937.9,1330.9 L938.9,1331.0 L939.9,1331.0 L940.9,1331.1 L941.9,1331.1 L942.9,1331.2 L943.9,1331.2 L944.9,1331.2 L945.9,1331.3 L946.9,1331.3 L947.9,1331.3 L948.9,1331.4 L949.9,1331.4 L950.9,1331.4 L951.9,1331.4 L952.9,1331.4 L953.9,1331.5 L954.9,1331.5 L955.9,1331.5 L956.9,1331.5 L957.9,1331.5 L958.9,1331.5 L959.9,1331.5 L960.9,1331.4 L961.9,1331.4 L962.9,1331.4 L963.9,1331.4 L964.9,1331.3 L965.9,1331.3 L966.9,1331.2 L967.9,1331.2 L968.9,1331.1 L969.9,1331.1 L970.9,1331.0 L971.9,1330.9 L972.9,1330.9 L973.9,1330.8 L974.9,1330.7 L975.9,1330.6 L976.9,1330.5 L977.9,1330.4 L978.9,1330.3 L979.9,1330.2 L980.9,1330.0 L981.9,1329.9 L982.9,1329.8 L983.9,1329.6 L984.9,1329.4 L985.9,1329.3 L986.9,1329.1 L987.9,1328.9 L988.9,1328.7 L989.9,1328.6 L990.9,1328.4 L991.9,1328.1 L992.9,1327.9 L993.9,1327.7 L994.9,1327.5 L995.9,1327.2 L996.9,1327.0 L997.9,1326.7 L998.9,1326.4 L999.9,1326.2 L1000.9,1325.9 L1001.9,1325.6 L1002.9,1325.3 L1003.9,1324.9 L1004.9,1324.6 L1005.9,1324.3 L1006.9,1323.9 L1007.9,1323.6 L1008.9,1323.2 L1009.9,1322.8 L1010.9,1322.4 L1011.9,1322.0 L1012.9,1321.6 L1013.9,1321.2 L1014.9,1320.8 L1015.9,1320.3 L1016.9,1319.8 L1017.9,1319.4 L1018.9,1318.9 L1019.9,1318.4 L1020.9,1317.9 L1021.9,1317.3 L1022.9,1316.8 L1023.9,1316.2 L1024.9,1315.7 L1025.9,1315.1 L1026.9,1314.5 L1027.9,1313.8 L1028.9,1313.2 L1029.9,1312.6 L1030.9,1311.9 L1031.9,1311.2 L1032.9,1310.5 L1033.9,1309.8 L1034.9,1309.0 L1035.9,1308.3 L1036.9,1307.5 L1037.9,1306.7 L1038.9,1305.9 L1039.9,1305.0 L1040.9,1304.2 L1041.9,1303.3 L1042.9,1302.4 L1043.9,1301.5 L1044.9,1300.5 L1045.9,1299.6 L1046.9,1298.6 L1047.9,1297.6 L1048.9,1296.6 L1049.9,1295.6 L1050.9,1294.5 L1051.9,1293.5 L1052.9,1292.4 L1053.9,1291.4 L1054.9,1290.3 L1055.9,1289.2 L1056.9,1288.2 L1057.9,1287.1 L1058.9,1286.0 L1059.9,1284.9 L1060.9,1283.8 L1061.9,1282.8 L1062.9,1281.7 L1063.9,1280.6 L1064.9,1279.6 L1065.9,1278.5 L1066.9,1277.5 L1067.9,1276.5 L1068.9,1275.5 L1069.9,1274.5 L1070.9,1273.5 L1071.9,1272.6 L1072.9,1271.6 L1073.9,1270.7 L1074.9,1269.8 L1075.9,1268.9 L1076.9,1268.1 L1077.9,1267.2 L1078.9,1266.4 L1079.9,1265.7 L1080.9,1264.9 L1081.9,1264.2 L1082.9,1263.5 L1083.9,1262.9 L1084.9,1262.3 L1085.9,1261.7 L1086.9,1261.2 L1087.9,1260.7 L1088.9,1260.2 L1089.9,1259.8 L1090.9,1259.4 L1091.9,1259.0 L1092.9,1258.7 L1093.9,1258.4 L1094.9,1258.2 L1095.9,1258.0 L1096.9,1257.9 L1097.9,1257.8 L1098.9,1257.8 L1099.9,1257.8 L1100.9,1257.8 L1101.9,1257.9 L1102.9,1258.1 L1103.9,1258.2 L1104.9,1258.5 L1105.9,1258.7 L1106.9,1259.0 L1107.9,1259.4 L1108.9,1259.7 L1109.9,1260.2 L1110.9,1260.6 L1111.9,1261.1 L1112.9,1261.6 L1113.9,1262.1 L1114.9,1262.7 L1115.9,1263.3 L1116.9,1264.0 L1117.9,1264.6 L1118.9,1265.3 L1119.9,1266.0 L1120.9,1266.8 L1121.9,1267.6 L1122.9,1268.3 L1123.9,1269.2 L1124.9,1270.0 L1125.9,1270.8 L1126.9,1271.7 L1127.9,1272.6 L1128.9,1273.5 L1129.9,1274.4 L1130.9,1275.3 L1131.9,1276.3 L1132.9,1277.2 L1133.9,1278.2 L1134.9,1279.2 L1135.9,1280.2 L1136.9,1281.1 L1137.9,1282.1 L1138.9,1283.1 L1139.9,1284.1 L1140.9,1285.1 L1141.9,1286.1 L1142.9,1287.1 L1143.9,1288.1 L1144.9,1289.1 L1145.9,1290.1 L1146.9,1291.1 L1147.9,1292.1 L1148.9,1293.1 L1149.9,1294.1 L1150.9,1295.0 L1151.9,1296.0 L1152.9,1296.9 L1153.9,1297.8 L1154.9,1298.7 L1155.9,1299.6 L1156.9,1300.5 L1157.9,1301.4 L1158.9,1302.3 L1159.9,1303.1 L1160.9,1303.9 L1161.9,1304.7 L1162.9,1305.5 L1163.9,1306.3 L1164.9,1307.1 L1165.9,1307.8 L1166.9,1308.6 L1167.9,1309.3 L1168.9,1310.0 L1169.9,1310.7 L1170.9,1311.4 L1171.9,1312.0 L1172.9,1312.7 L1173.9,1313.3 L1174.9,1313.9 L1175.9,1314.5 L1176.9,1315.1 L1177.9,1315.7 L1178.9,1316.3 L1179.9,1316.9 L1180.9,1317.4 L1181.9,1317.9 L1182.9,1318.4 L1183.9,1318.9 L1184.9,1319.4 L1185.9,1319.9 L1186.9,1320.4 L1187.9,1320.8 L1188.9,1321.3 L1189.9,1321.7 L1190.9,1322.1 L1191.9,1322.5 L1192.9,1322.9 L1193.9,1323.3 L1194.9,1323.7 L1195.9,1324.0 L1196.9,1324.4 L1197.9,1324.7 L1198.9,1325.0 L1199.7,1325.3" fill="none" stroke="#461950" stroke-width="6.3" stroke-linecap="round"/><path d="M1482.9,1018.6 H1469.9 V1332.0" fill="none" stroke="#000" stroke-width="3.2" stroke-linejoin="miter"/><path d="M1313.0,1345.0 V1332.0 H1626.8 V1345.0 M1469.9,1332.0 V1345.0" fill="none" stroke="#000" stroke-width="3.2" stroke-linejoin="miter"/><text x="0.0" y="0.0" font-family="'Liberation Sans', Arial, sans-serif" font-size="24.5" font-weight="bold" text-anchor="start" fill="#000" transform="translate(1484.8,1027.5) scale(1,1.035)">100</text><text x="0.0" y="0.0" font-family="'Liberation Sans', Arial, sans-serif" font-size="24.5" font-weight="bold" text-anchor="middle" fill="#000" transform="translate(1313.0,1368.8) scale(1,1.035)">-0.15</text><text x="0.0" y="0.0" font-family="'Liberation Sans', Arial, sans-serif" font-size="24.5" font-weight="bold" text-anchor="middle" fill="#000" transform="translate(1469.9,1368.8) scale(1,1.035)">0.00</text><text x="0.0" y="0.0" font-family="'Liberation Sans', Arial, sans-serif" font-size="24.5" font-weight="bold" text-anchor="middle" fill="#000" transform="translate(1626.8,1368.8) scale(1,1.035)">0.15</text><line x1="1443.8" y1="1332.0" x2="1443.8" y2="1345.0" stroke="#000" stroke-width="3.2"/><line x1="1443.8" y1="1018.6" x2="1443.8" y2="1334.0" stroke="#0b1480" stroke-width="6.3" stroke-linecap="round" stroke-dasharray="18.4 13.04"/><path d="M1313.0,1331.0 L1313.7,1315.5 L1314.7,1323.0 L1315.9,1323.4 L1316.8,1327.9 L1318.5,1314.9 L1319.4,1255.9 L1321.5,1303.2 L1322.5,1186.9 L1324.6,1322.7 L1326.6,1255.9 L1328.7,1312.4 L1330.7,1291.9 L1332.3,1328.9 L1332.8,1291.9 L1334.8,1324.8 L1336.9,1273.3 L1339.0,1323.8 L1340.5,1284.7 L1341.0,1330.0 L1342.9,1216.2 L1344.6,1234.2 L1346.2,1277.5 L1347.2,1328.9 L1348.8,1325.2 L1349.8,1294.4 L1350.8,1325.8 L1352.8,1287.2 L1354.9,1319.7 L1357.0,1283.1 L1359.0,1326.9 L1360.2,1328.5 L1362.1,1287.8 L1364.2,1330.0 L1365.9,1331.4 L1366.7,1310.4 L1368.0,1324.0 L1369.3,1310.4 L1370.4,1328.6 L1372.4,1331.0 L1373.5,1322.1 L1374.6,1321.8 L1375.5,1277.5 L1376.5,1325.4 L1377.9,1244.0 L1379.1,1326.9 L1381.1,1271.3 L1383.2,1326.9 L1384.5,1331.3 L1385.4,1325.7 L1386.3,1328.9 L1387.4,1323.2 L1388.5,1317.0 L1390.4,1331.0 L1392.5,1291.9 L1393.8,1329.0 L1395.6,1243.0 L1397.6,1214.2 L1399.2,1323.8 L1401.2,1303.2 L1403.0,1322.0 L1404.8,1297.5 L1406.9,1325.8 L1408.7,1328.2 L1410.2,1190.5 L1411.4,1323.1 L1413.0,1282.6 L1414.6,1326.9 L1416.1,1331.5 L1418.2,1282.6 L1420.0,1329.7 L1421.3,1316.6 L1422.9,1324.9 L1423.9,1264.6 L1425.2,1324.9 L1426.7,1253.8 L1428.5,1330.0 L1429.7,1329.5 L1431.6,1318.6 L1432.5,1324.4 L1434.0,1318.0 L1434.9,1263.6 L1436.7,1328.9 L1438.8,1292.9 L1440.8,1330.0 L1442.1,1327.8 L1443.7,1277.5 L1444.9,1326.2 L1446.0,1323.8 L1447.1,1330.7 L1448.0,1318.8 L1449.6,1330.2 L1450.6,1325.2 L1451.9,1330.8 L1453.0,1329.5 L1454.2,1330.5 L1455.7,1325.7 L1456.8,1315.5 L1458.0,1331.7 L1459.7,1326.6 L1461.4,1330.4 L1463.1,1327.1 L1464.5,1331.5 L1465.8,1328.9 L1467.5,1331.6 L1468.4,1330.8 L1470.0,1330.8 L1471.6,1327.1 L1473.3,1331.1 L1474.6,1326.7 L1476.2,1331.7 L1477.4,1328.5 L1479.2,1331.4 L1480.4,1314.6 L1482.4,1329.3 L1484.0,1331.0 L1485.2,1321.2 L1486.4,1310.6 L1488.4,1329.3 L1489.4,1330.7 L1490.6,1330.1 L1492.1,1330.6 L1493.6,1329.9 L1494.9,1331.7 L1496.6,1330.7 L1498.5,1330.8 L1499.4,1329.9 L1501.2,1330.3 L1502.6,1327.8 L1503.9,1330.7 L1504.9,1329.7 L1506.5,1330.4 L1507.6,1327.8 L1509.1,1320.0 L1510.4,1331.1 L1512.2,1326.8 L1513.9,1331.1 L1515.2,1328.6 L1516.4,1331.7 L1517.8,1327.1 L1519.4,1330.3 L1520.5,1327.5 L1522.5,1324.0 L1524.1,1331.4 L1525.2,1326.3 L1527.1,1330.5 L1528.4,1330.0 L1529.4,1331.5 L1530.5,1321.3 L1531.9,1331.7 L1533.7,1326.0 L1534.8,1331.6 L1536.4,1329.4 L1538.1,1330.2 L1539.3,1329.0 L1540.4,1330.8 L1541.8,1329.9 L1543.4,1331.7 L1545.2,1317.3 L1546.4,1330.8 L1547.8,1330.5 L1549.2,1330.2 L1550.4,1327.1 L1551.4,1331.2 L1553.3,1322.6 L1554.9,1325.7 L1556.1,1318.0 L1557.3,1310.6 L1559.3,1251.8 L1561.3,1329.3 L1562.8,1328.2 L1564.2,1316.3 L1565.0,1310.6 L1566.7,1323.7 L1567.7,1251.8 L1569.3,1241.1 L1570.6,1314.6 L1571.6,1309.3 L1573.1,1089.3 L1575.0,1322.5 L1576.0,1322.6 L1577.0,1316.1 L1578.3,1315.5 L1579.3,1168.2 L1581.3,1322.6 L1582.5,1329.0 L1583.7,1156.8 L1585.4,1265.1 L1586.7,1110.0 L1588.7,1314.6 L1590.7,1195.6 L1592.7,1314.6 L1594.0,1233.7 L1595.0,1329.2 L1596.7,1326.7 L1598.1,1320.8 L1599.0,1302.0 L1601.1,1272.5 L1602.7,1324.0 L1604.0,1329.4 L1605.4,1290.5 L1607.0,1317.0 L1608.8,1257.8 L1610.1,1327.1 L1611.4,1328.0 L1613.5,1292.0 L1615.4,1214.3 L1617.4,1318.6 L1619.0,1304.4 L1620.1,1082.0 L1622.1,1322.6 L1623.5,1277.8 L1625.5,1328.0 L1626.8,1310.6" fill="none" stroke="#e42a22" stroke-width="1.5" stroke-linejoin="round"/><path d="M1312.1,1297.4 L1313.1,1297.4 L1314.1,1297.4 L1315.1,1297.5 L1316.1,1297.5 L1317.1,1297.5 L1318.1,1297.5 L1319.1,1297.5 L1320.1,1297.6 L1321.1,1297.6 L1322.1,1297.6 L1323.1,1297.6 L1324.1,1297.6 L1325.1,1297.7 L1326.1,1297.7 L1327.1,1297.7 L1328.1,1297.7 L1329.1,1297.7 L1330.1,1297.8 L1331.1,1297.8 L1332.1,1297.8 L1333.1,1297.8 L1334.1,1297.8 L1335.1,1297.9 L1336.1,1297.9 L1337.1,1297.9 L1338.1,1297.9 L1339.1,1298.0 L1340.1,1298.0 L1341.1,1298.0 L1342.1,1298.0 L1343.1,1298.1 L1344.1,1298.1 L1345.1,1298.1 L1346.1,1298.1 L1347.1,1298.2 L1348.1,1298.2 L1349.1,1298.2 L1350.1,1298.3 L1351.1,1298.3 L1352.1,1298.3 L1353.1,1298.4 L1354.1,1298.4 L1355.1,1298.4 L1356.1,1298.5 L1357.1,1298.5 L1358.1,1298.6 L1359.1,1298.6 L1360.1,1298.6 L1361.1,1298.7 L1362.1,1298.7 L1363.1,1298.8 L1364.1,1298.8 L1365.1,1298.9 L1366.1,1298.9 L1367.1,1299.0 L1368.1,1299.0 L1369.1,1299.1 L1370.1,1299.2 L1371.1,1299.2 L1372.1,1299.3 L1373.1,1299.3 L1374.1,1299.4 L1375.1,1299.5 L1376.1,1299.6 L1377.1,1299.6 L1378.1,1299.7 L1379.1,1299.8 L1380.1,1299.9 L1381.1,1300.0 L1382.1,1300.0 L1383.1,1300.1 L1384.1,1300.2 L1385.1,1300.3 L1386.1,1300.4 L1387.1,1300.5 L1388.1,1300.7 L1389.1,1300.8 L1390.1,1300.9 L1391.1,1301.0 L1392.1,1301.1 L1393.1,1301.3 L1394.1,1301.4 L1395.1,1301.5 L1396.1,1301.7 L1397.1,1301.8 L1398.1,1302.0 L1399.1,1302.2 L1400.1,1302.3 L1401.1,1302.5 L1402.1,1302.7 L1403.1,1302.9 L1404.1,1303.0 L1405.1,1303.2 L1406.1,1303.4 L1407.1,1303.6 L1408.1,1303.9 L1409.1,1304.1 L1410.1,1304.3 L1411.1,1304.5 L1412.1,1304.8 L1413.1,1305.0 L1414.1,1305.3 L1415.1,1305.5 L1416.1,1305.8 L1417.1,1306.1 L1418.1,1306.3 L1419.1,1306.6 L1420.1,1306.9 L1421.1,1307.2 L1422.1,1307.5 L1423.1,1307.8 L1424.1,1308.1 L1425.1,1308.5 L1426.1,1308.8 L1427.1,1309.1 L1428.1,1309.4 L1429.1,1309.8 L1430.1,1310.1 L1431.1,1310.5 L1432.1,1310.8 L1433.1,1311.2 L1434.1,1311.5 L1435.1,1311.9 L1436.1,1312.2 L1437.1,1312.6 L1438.1,1312.9 L1439.1,1313.3 L1440.1,1313.6 L1441.1,1314.0 L1442.1,1314.4 L1443.1,1314.7 L1444.1,1315.1 L1445.1,1315.4 L1446.1,1315.8 L1447.1,1316.1 L1448.1,1316.5 L1449.1,1316.8 L1450.1,1317.2 L1451.1,1317.5 L1452.1,1317.9 L1453.1,1318.2 L1454.1,1318.6 L1455.1,1318.9 L1456.1,1319.2 L1457.1,1319.5 L1458.1,1319.8 L1459.1,1320.2 L1460.1,1320.5 L1461.1,1320.8 L1462.1,1321.1 L1463.1,1321.3 L1464.1,1321.6 L1465.1,1321.9 L1466.1,1322.2 L1467.1,1322.4 L1468.1,1322.7 L1469.1,1322.9 L1470.1,1323.2 L1471.1,1323.4 L1472.1,1323.6 L1473.1,1323.8 L1474.1,1324.0 L1475.1,1324.2 L1476.1,1324.4 L1477.1,1324.6 L1478.1,1324.7 L1479.1,1324.9 L1480.1,1325.0 L1481.1,1325.1 L1482.1,1325.2 L1483.1,1325.3 L1484.1,1325.4 L1485.1,1325.5 L1486.1,1325.6 L1487.1,1325.6 L1488.1,1325.6 L1489.1,1325.7 L1490.1,1325.7 L1491.1,1325.7 L1492.1,1325.6 L1493.1,1325.6 L1494.1,1325.5 L1495.1,1325.5 L1496.1,1325.4 L1497.1,1325.3 L1498.1,1325.2 L1499.1,1325.0 L1500.1,1324.9 L1501.1,1324.7 L1502.1,1324.5 L1503.1,1324.3 L1504.1,1324.1 L1505.1,1323.9 L1506.1,1323.6 L1507.1,1323.4 L1508.1,1323.1 L1509.1,1322.8 L1510.1,1322.5 L1511.1,1322.2 L1512.1,1321.8 L1513.1,1321.5 L1514.1,1321.1 L1515.1,1320.8 L1516.1,1320.4 L1517.1,1320.0 L1518.1,1319.6 L1519.1,1319.2 L1520.1,1318.8 L1521.1,1318.3 L1522.1,1317.9 L1523.1,1317.4 L1524.1,1316.9 L1525.1,1316.5 L1526.1,1316.0 L1527.1,1315.5 L1528.1,1315.0 L1529.1,1314.5 L1530.1,1313.9 L1531.1,1313.4 L1532.1,1312.9 L1533.1,1312.3 L1534.1,1311.7 L1535.1,1311.2 L1536.1,1310.6 L1537.1,1310.0 L1538.1,1309.4 L1539.1,1308.9 L1540.1,1308.3 L1541.1,1307.7 L1542.1,1307.0 L1543.1,1306.4 L1544.1,1305.8 L1545.1,1305.2 L1546.1,1304.6 L1547.1,1304.0 L1548.1,1303.3 L1549.1,1302.7 L1550.1,1302.1 L1551.1,1301.4 L1552.1,1300.8 L1553.1,1300.2 L1554.1,1299.6 L1555.1,1298.9 L1556.1,1298.3 L1557.1,1297.7 L1558.1,1297.1 L1559.1,1296.5 L1560.1,1295.8 L1561.1,1295.2 L1562.1,1294.6 L1563.1,1294.0 L1564.1,1293.4 L1565.1,1292.9 L1566.1,1292.3 L1567.1,1291.7 L1568.1,1291.2 L1569.1,1290.6 L1570.1,1290.1 L1571.1,1289.5 L1572.1,1289.0 L1573.1,1288.5 L1574.1,1288.0 L1575.1,1287.5 L1576.1,1287.0 L1577.1,1286.5 L1578.1,1286.1 L1579.1,1285.6 L1580.1,1285.2 L1581.1,1284.8 L1582.1,1284.4 L1583.1,1284.0 L1584.1,1283.6 L1585.1,1283.3 L1586.1,1282.9 L1587.1,1282.6 L1588.1,1282.3 L1589.1,1282.0 L1590.1,1281.7 L1591.1,1281.4 L1592.1,1281.2 L1593.1,1280.9 L1594.1,1280.7 L1595.1,1280.5 L1596.1,1280.3 L1597.1,1280.1 L1598.1,1280.0 L1599.1,1279.8 L1600.1,1279.7 L1601.1,1279.6 L1602.1,1279.5 L1603.1,1279.5 L1604.1,1279.4 L1605.1,1279.4 L1606.1,1279.4 L1607.1,1279.4 L1608.1,1279.4 L1609.1,1279.4 L1610.1,1279.5 L1611.1,1279.6 L1612.1,1279.7 L1613.1,1279.8 L1614.1,1279.9 L1615.1,1280.1 L1616.1,1280.3 L1617.1,1280.5 L1618.1,1280.7 L1619.1,1280.9 L1620.1,1281.2 L1621.1,1281.5 L1622.1,1281.8 L1623.1,1282.1 L1624.1,1282.5 L1625.1,1282.8 L1626.1,1283.2 L1627.1,1283.6 L1627.4,1283.8" fill="none" stroke="#461950" stroke-width="6.3" stroke-linecap="round"/><path d="M244.6,1542.7 H231.6 V1856.6" fill="none" stroke="#000" stroke-width="3.2" stroke-linejoin="miter"/><path d="M74.5,1869.6 V1856.6 H388.4 V1869.6 M231.6,1856.6 V1869.6" fill="none" stroke="#000" stroke-width="3.2" stroke-linejoin="miter"/><text x="0.0" y="0.0" font-family="'Liberation Sans', Arial, sans-serif" font-size="24.5" font-weight="bold" text-anchor="start" fill="#000" transform="translate(246.5,1551.6) scale(1,1.035)">100</text><text x="0.0" y="0.0" font-family="'Liberation Sans', Arial, sans-serif" font-size="24.5" font-weight="bold" text-anchor="middle" fill="#000" transform="translate(74.5,1893.4) scale(1,1.035)">-0.15</text><text x="0.0" y="0.0" font-family="'Liberation Sans', Arial, sans-serif" font-size="24.5" font-weight="bold" text-anchor="middle" fill="#000" transform="translate(231.6,1893.4) scale(1,1.035)">0.00</text><text x="0.0" y="0.0" font-family="'Liberation Sans', Arial, sans-serif" font-size="24.5" font-weight="bold" text-anchor="middle" fill="#000" transform="translate(388.4,1893.4) scale(1,1.035)">0.15</text><line x1="141.4" y1="1542.7" x2="141.4" y2="1858.5" stroke="#0b1480" stroke-width="6.3" stroke-linecap="round" stroke-dasharray="18.4 13.04"/><path d="M74.5,1855.6 L75.6,1835.7 L77.5,1853.6 L79.0,1852.4 L80.5,1827.6 L82.5,1852.6 L84.0,1844.6 L85.5,1854.6 L86.9,1841.3 L89.0,1853.6 L90.4,1854.8 L91.7,1835.7 L92.8,1855.4 L94.0,1853.6 L96.0,1846.6 L97.0,1854.6 L99.0,1816.4 L101.0,1852.6 L103.0,1832.5 L105.0,1853.6 L106.1,1856.3 L107.7,1847.6 L108.6,1837.3 L110.5,1853.6 L111.7,1854.5 L113.5,1829.2 L114.8,1841.0 L116.0,1852.6 L117.2,1855.9 L118.2,1849.9 L119.9,1840.5 L122.0,1853.6 L123.5,1853.9 L124.6,1851.9 L125.5,1838.9 L127.2,1854.3 L128.0,1853.6 L129.0,1852.6 L130.1,1852.5 L132.0,1818.0 L134.0,1851.6 L136.0,1830.8 L138.0,1851.6 L140.0,1813.1 L141.5,1848.6 L143.2,1824.4 L145.0,1850.6 L146.2,1821.5 L147.3,1790.6 L148.4,1852.3 L149.3,1844.1 L150.5,1845.3 L151.8,1848.7 L153.0,1852.6 L154.7,1855.9 L155.8,1847.4 L156.9,1824.4 L159.0,1852.6 L160.1,1853.9 L161.3,1850.2 L162.6,1834.1 L163.9,1856.1 L165.0,1853.6 L166.8,1855.6 L168.2,1821.2 L169.5,1856.3 L171.0,1851.6 L172.6,1853.9 L173.7,1852.4 L174.6,1811.5 L175.6,1853.1 L177.0,1851.6 L178.2,1839.7 L179.5,1827.6 L181.5,1850.6 L182.8,1854.6 L184.3,1822.8 L185.9,1854.2 L187.0,1850.6 L188.6,1851.6 L189.5,1846.6 L190.5,1850.8 L191.5,1792.2 L193.2,1848.8 L194.8,1835.2 L195.6,1843.7 L196.6,1855.4 L197.9,1844.7 L199.6,1811.5 L201.0,1836.6 L202.0,1797.0 L203.5,1851.9 L205.0,1847.4 L206.0,1834.1 L207.4,1849.3 L208.4,1853.4 L209.5,1845.8 L211.3,1768.1 L213.0,1836.6 L214.5,1831.9 L215.7,1624.8 L217.3,1848.1 L218.1,1834.1 L219.7,1817.6 L220.5,1639.3 L221.6,1855.5 L223.3,1542.7 L224.7,1827.1 L226.1,1824.4 L227.0,1822.1 L228.2,1774.2 L229.4,1769.7 L230.6,1842.8 L231.8,1587.8 L233.3,1851.4 L234.2,1843.7 L235.2,1834.9 L236.8,1851.4 L239.0,1740.7 L240.1,1742.4 L241.8,1856.3 L242.7,1779.2 L244.7,1842.2 L246.0,1792.3 L247.5,1853.3 L248.6,1800.8 L249.9,1854.0 L251.1,1850.6 L252.5,1826.6 L253.4,1854.9 L255.2,1806.7 L256.4,1845.9 L257.8,1855.3 L259.8,1768.7 L261.1,1836.9 L262.5,1816.6 L264.4,1839.5 L266.1,1855.5 L267.0,1806.6 L268.0,1845.6 L269.4,1844.6 L270.3,1760.1 L271.7,1839.0 L273.6,1839.5 L274.8,1847.5 L276.5,1693.9 L277.6,1843.9 L278.8,1717.5 L280.8,1840.9 L282.6,1842.4 L283.8,1633.5 L285.5,1845.3 L287.3,1846.1 L289.3,1766.7 L291.0,1851.7 L292.4,1825.2 L293.9,1854.0 L295.7,1843.8 L296.5,1736.5 L298.0,1816.6 L299.8,1729.9 L301.8,1831.7 L303.8,1754.2 L305.4,1855.8 L306.8,1831.6 L307.9,1840.6 L309.0,1848.7 L310.7,1843.8 L311.6,1736.5 L313.5,1806.6 L315.6,1763.4 L316.8,1846.2 L318.2,1846.5 L319.5,1855.3 L320.9,1842.5 L322.1,1742.4 L324.0,1796.6 L326.1,1758.2 L327.8,1816.6 L329.3,1731.3 L330.0,1848.7 L331.7,1837.6 L332.6,1633.5 L334.3,1854.7 L335.3,1605.9 L337.1,1843.5 L338.5,1851.4 L339.9,1843.4 L342.0,1806.6 L344.0,1836.6 L345.7,1774.6 L347.7,1848.7 L349.5,1816.6 L351.7,1848.7 L353.0,1770.0 L354.9,1663.0 L356.9,1830.4 L358.2,1676.8 L359.8,1847.3 L361.5,1840.9 L362.6,1854.0 L364.0,1806.6 L366.1,1762.8 L367.1,1849.5 L368.3,1732.4 L369.4,1615.1 L370.7,1839.5 L372.7,1747.7 L374.6,1749.0 L375.9,1847.4 L377.9,1758.8 L380.0,1826.6 L381.6,1854.5 L383.2,1856.3 L384.5,1819.2 L386.0,1846.6 L387.7,1826.4 L388.4,1848.7" fill="none" stroke="#1530ff" stroke-width="1.5" stroke-linejoin="round"/><path d="M73.9,1847.8 L74.9,1847.7 L75.9,1847.7 L76.9,1847.6 L77.9,1847.6 L78.9,1847.6 L79.9,1847.5 L80.9,1847.5 L81.9,1847.4 L82.9,1847.4 L83.9,1847.3 L84.9,1847.3 L85.9,1847.3 L86.9,1847.2 L87.9,1847.2 L88.9,1847.1 L89.9,1847.1 L90.9,1847.0 L91.9,1847.0 L92.9,1846.9 L93.9,1846.9 L94.9,1846.8 L95.9,1846.7 L96.9,1846.7 L97.9,1846.6 L98.9,1846.6 L99.9,1846.5 L100.9,1846.4 L101.9,1846.3 L102.9,1846.3 L103.9,1846.2 L104.9,1846.1 L105.9,1846.0 L106.9,1845.9 L107.9,1845.8 L108.9,1845.7 L109.9,1845.6 L110.9,1845.5 L111.9,1845.4 L112.9,1845.3 L113.9,1845.2 L114.9,1845.0 L115.9,1844.9 L116.9,1844.7 L117.9,1844.6 L118.9,1844.5 L119.9,1844.3 L120.9,1844.1 L121.9,1844.0 L122.9,1843.8 L123.9,1843.6 L124.9,1843.4 L125.9,1843.2 L126.9,1843.0 L127.9,1842.8 L128.9,1842.6 L129.9,1842.4 L130.9,1842.2 L131.9,1841.9 L132.9,1841.7 L133.9,1841.4 L134.9,1841.2 L135.9,1840.9 L136.9,1840.6 L137.9,1840.3 L138.9,1840.1 L139.9,1839.8 L140.9,1839.4 L141.9,1839.1 L142.9,1838.8 L143.9,1838.5 L144.9,1838.1 L145.9,1837.8 L146.9,1837.4 L147.9,1837.0 L148.9,1836.6 L149.9,1836.2 L150.9,1835.8 L151.9,1835.4 L152.9,1835.0 L153.9,1834.5 L154.9,1834.1 L155.9,1833.6 L156.9,1833.1 L157.9,1832.7 L158.9,1832.2 L159.9,1831.7 L160.9,1831.1 L161.9,1830.6 L162.9,1830.1 L163.9,1829.5 L164.9,1828.9 L165.9,1828.4 L166.9,1827.8 L167.9,1827.1 L168.9,1826.5 L169.9,1825.9 L170.9,1825.2 L171.9,1824.6 L172.9,1823.9 L173.9,1823.2 L174.9,1822.6 L175.9,1821.9 L176.9,1821.1 L177.9,1820.4 L178.9,1819.7 L179.9,1819.0 L180.9,1818.2 L181.9,1817.5 L182.9,1816.7 L183.9,1816.0 L184.9,1815.2 L185.9,1814.4 L186.9,1813.6 L187.9,1812.9 L188.9,1812.1 L189.9,1811.3 L190.9,1810.5 L191.9,1809.7 L192.9,1808.9 L193.9,1808.1 L194.9,1807.3 L195.9,1806.5 L196.9,1805.7 L197.9,1804.9 L198.9,1804.1 L199.9,1803.4 L200.9,1802.6 L201.9,1801.8 L202.9,1801.0 L203.9,1800.2 L204.9,1799.5 L205.9,1798.7 L206.9,1797.9 L207.9,1797.2 L208.9,1796.4 L209.9,1795.7 L210.9,1794.9 L211.9,1794.2 L212.9,1793.5 L213.9,1792.8 L214.9,1792.2 L215.9,1791.5 L216.9,1790.9 L217.9,1790.3 L218.9,1789.7 L219.9,1789.1 L220.9,1788.6 L221.9,1788.1 L222.9,1787.6 L223.9,1787.2 L224.9,1786.8 L225.9,1786.4 L226.9,1786.0 L227.9,1785.7 L228.9,1785.4 L229.9,1785.1 L230.9,1784.8 L231.9,1784.6 L232.9,1784.4 L233.9,1784.2 L234.9,1784.0 L235.9,1783.9 L236.9,1783.7 L237.9,1783.6 L238.9,1783.5 L239.9,1783.4 L240.9,1783.3 L241.9,1783.3 L242.9,1783.2 L243.9,1783.2 L244.9,1783.1 L245.9,1783.1 L246.9,1783.1 L247.9,1783.1 L248.9,1783.1 L249.9,1783.1 L250.9,1783.1 L251.9,1783.2 L252.9,1783.2 L253.9,1783.2 L254.9,1783.2 L255.9,1783.3 L256.9,1783.3 L257.9,1783.3 L258.9,1783.3 L259.9,1783.3 L260.9,1783.4 L261.9,1783.4 L262.9,1783.4 L263.9,1783.4 L264.9,1783.4 L265.9,1783.5 L266.9,1783.5 L267.9,1783.5 L268.9,1783.5 L269.9,1783.5 L270.9,1783.5 L271.9,1783.5 L272.9,1783.5 L273.9,1783.5 L274.9,1783.5 L275.9,1783.6 L276.9,1783.6 L277.9,1783.6 L278.9,1783.6 L279.9,1783.6 L280.9,1783.6 L281.9,1783.6 L282.9,1783.6 L283.9,1783.6 L284.9,1783.6 L285.9,1783.6 L286.9,1783.6 L287.9,1783.6 L288.9,1783.6 L289.9,1783.6 L290.9,1783.6 L291.9,1783.6 L292.9,1783.6 L293.9,1783.6 L294.9,1783.6 L295.9,1783.7 L296.9,1783.7 L297.9,1783.7 L298.9,1783.7 L299.9,1783.7 L300.9,1783.7 L301.9,1783.7 L302.9,1783.7 L303.9,1783.7 L304.9,1783.7 L305.9,1783.7 L306.9,1783.8 L307.9,1783.8 L308.9,1783.8 L309.9,1783.8 L310.9,1783.8 L311.9,1783.8 L312.9,1783.9 L313.9,1783.9 L314.9,1783.9 L315.9,1783.9 L316.9,1784.0 L317.9,1784.0 L318.9,1784.0 L319.9,1784.0 L320.9,1784.1 L321.9,1784.1 L322.9,1784.1 L323.9,1784.2 L324.9,1784.2 L325.9,1784.3 L326.9,1784.3 L327.9,1784.3 L328.9,1784.4 L329.9,1784.4 L330.9,1784.5 L331.9,1784.5 L332.9,1784.6 L333.9,1784.6 L334.9,1784.7 L335.9,1784.8 L336.9,1784.8 L337.9,1784.9 L338.9,1784.9 L339.9,1785.0 L340.9,1785.1 L341.9,1785.2 L342.9,1785.2 L343.9,1785.3 L344.9,1785.4 L345.9,1785.5 L346.9,1785.6 L347.9,1785.7 L348.9,1785.8 L349.9,1785.8 L350.9,1785.9 L351.9,1786.0 L352.9,1786.2 L353.9,1786.3 L354.9,1786.4 L355.9,1786.5 L356.9,1786.6 L357.9,1786.7 L358.9,1786.8 L359.9,1787.0 L360.9,1787.1 L361.9,1787.2 L362.9,1787.4 L363.9,1787.5 L364.9,1787.6 L365.9,1787.8 L366.9,1787.9 L367.9,1788.1 L368.9,1788.3 L369.9,1788.4 L370.9,1788.6 L371.9,1788.7 L372.9,1788.9 L373.9,1789.1 L374.9,1789.3 L375.9,1789.5 L376.9,1789.6 L377.9,1789.8 L378.9,1790.0 L379.9,1790.2 L380.9,1790.4 L381.9,1790.6 L382.9,1790.9 L383.9,1791.1 L384.9,1791.3 L385.9,1791.5 L386.9,1791.7 L387.9,1792.0 L388.7,1792.2" fill="none" stroke="#461950" stroke-width="6.3" stroke-linecap="round"/><path d="M656.4,1542.7 H643.4 V1856.6" fill="none" stroke="#000" stroke-width="3.2" stroke-linejoin="miter"/><path d="M486.0,1869.6 V1856.6 H800.8 V1869.6 M643.4,1856.6 V1869.6" fill="none" stroke="#000" stroke-width="3.2" stroke-linejoin="miter"/><text x="0.0" y="0.0" font-family="'Liberation Sans', Arial, sans-serif" font-size="24.5" font-weight="bold" text-anchor="start" fill="#000" transform="translate(658.3,1551.6) scale(1,1.035)">150</text><text x="0.0" y="0.0" font-family="'Liberation Sans', Arial, sans-serif" font-size="24.5" font-weight="bold" text-anchor="middle" fill="#000" transform="translate(486.0,1893.4) scale(1,1.035)">-0.15</text><text x="0.0" y="0.0" font-family="'Liberation Sans', Arial, sans-serif" font-size="24.5" font-weight="bold" text-anchor="middle" fill="#000" transform="translate(643.4,1893.4) scale(1,1.035)">0.00</text><text x="0.0" y="0.0" font-family="'Liberation Sans', Arial, sans-serif" font-size="24.5" font-weight="bold" text-anchor="middle" fill="#000" transform="translate(800.8,1893.4) scale(1,1.035)">0.15</text><line x1="549.4" y1="1856.6" x2="549.4" y2="1869.6" stroke="#000" stroke-width="3.2"/><line x1="549.4" y1="1542.7" x2="549.4" y2="1858.5" stroke="#0b1480" stroke-width="6.3" stroke-linecap="round" stroke-dasharray="18.4 13.04"/><path d="M486.0,1855.6 L487.3,1855.3 L488.3,1851.6 L489.6,1855.7 L490.7,1853.8 L492.3,1855.8 L493.4,1854.9 L495.2,1855.1 L496.5,1855.3 L497.7,1856.1 L499.0,1855.4 L500.5,1855.1 L501.9,1853.7 L503.7,1855.4 L505.3,1854.1 L506.2,1856.3 L507.2,1854.0 L508.3,1856.2 L509.9,1852.1 L511.2,1855.8 L512.2,1851.8 L513.7,1856.3 L515.4,1854.4 L517.0,1842.0 L518.5,1853.6 L520.0,1833.5 L521.5,1850.6 L523.1,1799.0 L524.3,1825.9 L525.5,1854.2 L527.2,1851.8 L529.0,1850.7 L530.0,1856.1 L532.2,1842.0 L533.8,1852.6 L535.2,1828.7 L537.0,1853.0 L538.7,1856.2 L540.3,1854.0 L541.3,1854.8 L542.3,1855.0 L543.9,1855.8 L545.3,1849.1 L546.9,1854.6 L547.9,1850.0 L549.3,1854.7 L550.2,1853.2 L552.0,1854.8 L554.0,1855.4 L555.1,1853.2 L556.7,1850.4 L557.7,1827.5 L559.3,1856.3 L560.7,1854.2 L561.8,1852.6 L562.8,1848.6 L564.3,1823.8 L565.8,1853.1 L567.4,1854.2 L569.0,1852.8 L570.4,1842.0 L572.1,1854.5 L573.8,1850.8 L575.9,1854.2 L576.9,1855.6 L578.1,1854.1 L579.2,1855.3 L580.7,1849.3 L582.2,1851.4 L583.7,1817.8 L585.1,1847.9 L586.2,1795.9 L588.0,1782.6 L589.3,1853.0 L590.4,1854.2 L591.7,1855.1 L593.5,1825.1 L595.3,1839.6 L596.7,1698.2 L598.9,1836.0 L600.7,1763.8 L602.6,1747.4 L604.4,1833.5 L606.2,1820.2 L608.0,1780.8 L609.8,1849.3 L610.9,1833.7 L612.0,1816.6 L613.4,1846.6 L614.7,1764.4 L616.4,1850.0 L617.7,1853.0 L619.4,1840.8 L620.8,1764.4 L622.6,1802.0 L623.8,1624.8 L624.9,1828.7 L626.8,1826.3 L628.3,1692.2 L629.4,1761.4 L630.5,1828.7 L632.2,1850.2 L633.5,1855.4 L634.7,1844.9 L636.0,1796.6 L637.3,1856.3 L638.4,1723.7 L639.6,1834.8 L641.4,1672.8 L643.2,1855.4 L644.1,1839.8 L645.6,1832.3 L647.5,1855.6 L648.3,1850.4 L649.4,1837.9 L650.5,1826.6 L651.7,1803.5 L652.9,1778.4 L655.0,1847.3 L657.0,1784.1 L657.9,1850.7 L659.6,1851.5 L661.2,1851.3 L662.2,1827.8 L663.7,1854.5 L665.3,1846.4 L666.3,1818.5 L667.8,1854.5 L669.4,1765.5 L670.7,1847.6 L672.0,1854.5 L673.5,1848.1 L675.0,1839.7 L676.1,1816.0 L677.0,1851.5 L678.6,1854.5 L680.3,1854.8 L681.2,1823.2 L683.3,1855.6 L685.0,1849.8 L686.4,1787.7 L687.4,1852.6 L688.9,1853.5 L691.0,1791.8 L692.0,1853.4 L693.6,1853.5 L695.6,1823.7 L697.0,1841.6 L698.7,1817.5 L700.8,1854.5 L702.4,1852.2 L703.9,1854.7 L704.9,1848.4 L706.2,1855.8 L707.8,1854.0 L708.9,1849.8 L710.0,1847.3 L711.3,1855.8 L713.1,1855.2 L714.6,1856.3 L716.1,1854.1 L717.2,1855.6 L718.5,1853.0 L719.5,1855.6 L720.3,1848.4 L721.8,1855.1 L723.1,1852.7 L724.2,1855.3 L725.3,1855.4 L727.5,1851.5 L728.6,1856.3 L730.3,1853.9 L731.7,1856.3 L733.0,1854.5 L734.7,1841.2 L736.5,1855.8 L737.3,1853.5 L738.9,1855.9 L740.1,1854.7 L741.5,1855.1 L742.9,1854.4 L744.2,1855.8 L745.4,1853.9 L746.7,1856.3 L748.0,1855.3 L749.5,1855.1 L751.2,1854.6 L752.5,1855.2 L754.3,1842.2 L755.5,1855.0 L756.6,1854.1 L757.4,1854.5 L758.5,1855.1 L760.0,1854.6 L761.0,1855.2 L762.3,1854.2 L764.0,1855.1 L765.4,1852.5 L766.6,1848.9 L768.2,1856.2 L769.8,1852.7 L770.9,1855.0 L772.3,1855.3 L773.6,1855.5 L775.3,1851.4 L777.0,1856.0 L777.9,1855.3 L779.5,1843.7 L780.8,1855.1 L782.1,1854.5 L783.7,1856.3 L785.0,1853.7 L786.2,1850.4 L787.8,1856.3 L789.3,1853.9 L790.8,1855.4 L792.4,1852.5 L794.3,1856.2 L795.3,1853.8 L796.7,1856.2 L798.6,1853.9 L800.6,1846.3 L800.8,1855.6" fill="none" stroke="#1530ff" stroke-width="1.5" stroke-linejoin="round"/><path d="M486.0,1849.7 L487.0,1849.6 L488.0,1849.6 L489.0,1849.5 L490.0,1849.5 L491.0,1849.4 L492.0,1849.4 L493.0,1849.3 L494.0,1849.2 L495.0,1849.1 L496.0,1849.1 L497.0,1849.0 L498.0,1848.9 L499.0,1848.8 L500.0,1848.7 L501.0,1848.6 L502.0,1848.4 L503.0,1848.3 L504.0,1848.2 L505.0,1848.1 L506.0,1847.9 L507.0,1847.8 L508.0,1847.6 L509.0,1847.5 L510.0,1847.3 L511.0,1847.2 L512.0,1847.0 L513.0,1846.8 L514.0,1846.7 L515.0,1846.5 L516.0,1846.3 L517.0,1846.1 L518.0,1845.9 L519.0,1845.7 L520.0,1845.5 L521.0,1845.3 L522.0,1845.1 L523.0,1844.9 L524.0,1844.6 L525.0,1844.4 L526.0,1844.2 L527.0,1843.9 L528.0,1843.7 L529.0,1843.4 L530.0,1843.2 L531.0,1842.9 L532.0,1842.7 L533.0,1842.4 L534.0,1842.1 L535.0,1841.8 L536.0,1841.6 L537.0,1841.3 L538.0,1841.0 L539.0,1840.7 L540.0,1840.4 L541.0,1840.1 L542.0,1839.8 L543.0,1839.4 L544.0,1839.1 L545.0,1838.8 L546.0,1838.5 L547.0,1838.1 L548.0,1837.8 L549.0,1837.4 L550.0,1837.1 L551.0,1836.7 L552.0,1836.4 L553.0,1836.0 L554.0,1835.6 L555.0,1835.2 L556.0,1834.9 L557.0,1834.5 L558.0,1834.1 L559.0,1833.7 L560.0,1833.3 L561.0,1832.9 L562.0,1832.5 L563.0,1832.1 L564.0,1831.6 L565.0,1831.2 L566.0,1830.8 L567.0,1830.3 L568.0,1829.9 L569.0,1829.5 L570.0,1829.0 L571.0,1828.6 L572.0,1828.1 L573.0,1827.6 L574.0,1827.2 L575.0,1826.7 L576.0,1826.2 L577.0,1825.8 L578.0,1825.3 L579.0,1824.8 L580.0,1824.3 L581.0,1823.9 L582.0,1823.4 L583.0,1822.9 L584.0,1822.5 L585.0,1822.0 L586.0,1821.5 L587.0,1821.1 L588.0,1820.6 L589.0,1820.2 L590.0,1819.7 L591.0,1819.3 L592.0,1818.8 L593.0,1818.4 L594.0,1818.0 L595.0,1817.6 L596.0,1817.2 L597.0,1816.8 L598.0,1816.4 L599.0,1816.0 L600.0,1815.6 L601.0,1815.3 L602.0,1814.9 L603.0,1814.6 L604.0,1814.2 L605.0,1813.9 L606.0,1813.6 L607.0,1813.3 L608.0,1813.1 L609.0,1812.8 L610.0,1812.5 L611.0,1812.3 L612.0,1812.1 L613.0,1811.9 L614.0,1811.7 L615.0,1811.6 L616.0,1811.4 L617.0,1811.3 L618.0,1811.1 L619.0,1811.0 L620.0,1810.9 L621.0,1810.9 L622.0,1810.8 L623.0,1810.7 L624.0,1810.7 L625.0,1810.7 L626.0,1810.7 L627.0,1810.7 L628.0,1810.7 L629.0,1810.8 L630.0,1810.8 L631.0,1810.9 L632.0,1811.0 L633.0,1811.1 L634.0,1811.2 L635.0,1811.3 L636.0,1811.4 L637.0,1811.6 L638.0,1811.8 L639.0,1811.9 L640.0,1812.1 L641.0,1812.3 L642.0,1812.6 L643.0,1812.8 L644.0,1813.1 L645.0,1813.3 L646.0,1813.6 L647.0,1813.9 L648.0,1814.2 L649.0,1814.5 L650.0,1814.9 L651.0,1815.2 L652.0,1815.5 L653.0,1815.9 L654.0,1816.3 L655.0,1816.7 L656.0,1817.1 L657.0,1817.4 L658.0,1817.9 L659.0,1818.3 L660.0,1818.7 L661.0,1819.1 L662.0,1819.6 L663.0,1820.0 L664.0,1820.4 L665.0,1820.9 L666.0,1821.3 L667.0,1821.8 L668.0,1822.3 L669.0,1822.7 L670.0,1823.2 L671.0,1823.7 L672.0,1824.1 L673.0,1824.6 L674.0,1825.1 L675.0,1825.6 L676.0,1826.0 L677.0,1826.5 L678.0,1827.0 L679.0,1827.5 L680.0,1827.9 L681.0,1828.4 L682.0,1828.9 L683.0,1829.3 L684.0,1829.8 L685.0,1830.3 L686.0,1830.7 L687.0,1831.2 L688.0,1831.6 L689.0,1832.1 L690.0,1832.5 L691.0,1833.0 L692.0,1833.4 L693.0,1833.9 L694.0,1834.3 L695.0,1834.7 L696.0,1835.1 L697.0,1835.6 L698.0,1836.0 L699.0,1836.4 L700.0,1836.8 L701.0,1837.2 L702.0,1837.6 L703.0,1838.0 L704.0,1838.4 L705.0,1838.8 L706.0,1839.2 L707.0,1839.6 L708.0,1839.9 L709.0,1840.3 L710.0,1840.7 L711.0,1841.0 L712.0,1841.4 L713.0,1841.7 L714.0,1842.1 L715.0,1842.4 L716.0,1842.7 L717.0,1843.0 L718.0,1843.4 L719.0,1843.7 L720.0,1844.0 L721.0,1844.3 L722.0,1844.6 L723.0,1844.8 L724.0,1845.1 L725.0,1845.4 L726.0,1845.7 L727.0,1845.9 L728.0,1846.2 L729.0,1846.4 L730.0,1846.7 L731.0,1846.9 L732.0,1847.1 L733.0,1847.4 L734.0,1847.6 L735.0,1847.8 L736.0,1848.0 L737.0,1848.2 L738.0,1848.4 L739.0,1848.6 L740.0,1848.8 L741.0,1848.9 L742.0,1849.1 L743.0,1849.3 L744.0,1849.5 L745.0,1849.6 L746.0,1849.8 L747.0,1849.9 L748.0,1850.1 L749.0,1850.2 L750.0,1850.4 L751.0,1850.5 L752.0,1850.6 L753.0,1850.7 L754.0,1850.9 L755.0,1851.0 L756.0,1851.1 L757.0,1851.2 L758.0,1851.3 L759.0,1851.4 L760.0,1851.5 L761.0,1851.6 L762.0,1851.7 L763.0,1851.7 L764.0,1851.8 L765.0,1851.9 L766.0,1852.0 L767.0,1852.0 L768.0,1852.1 L769.0,1852.2 L770.0,1852.2 L771.0,1852.3 L772.0,1852.3 L773.0,1852.4 L774.0,1852.4 L775.0,1852.5 L776.0,1852.5 L777.0,1852.6 L778.0,1852.6 L779.0,1852.6 L780.0,1852.6 L781.0,1852.7 L782.0,1852.7 L783.0,1852.7 L784.0,1852.7 L785.0,1852.8 L786.0,1852.8 L787.0,1852.8 L788.0,1852.8 L789.0,1852.8 L790.0,1852.8 L791.0,1852.8 L792.0,1852.8 L793.0,1852.8 L794.0,1852.8 L795.0,1852.8 L796.0,1852.8 L797.0,1852.8 L798.0,1852.8 L799.0,1852.8 L799.6,1852.8" fill="none" stroke="#461950" stroke-width="6.3" stroke-linecap="round"/><path d="M1055.6,1542.7 H1042.6 V1856.6" fill="none" stroke="#000" stroke-width="3.2" stroke-linejoin="miter"/><path d="M885.7,1869.6 V1856.6 H1200.0 V1869.6 M1042.6,1856.6 V1869.6" fill="none" stroke="#000" stroke-width="3.2" stroke-linejoin="miter"/><text x="0.0" y="0.0" font-family="'Liberation Sans', Arial, sans-serif" font-size="24.5" font-weight="bold" text-anchor="start" fill="#000" transform="translate(1057.5,1551.6) scale(1,1.035)">200</text><text x="0.0" y="0.0" font-family="'Liberation Sans', Arial, sans-serif" font-size="24.5" font-weight="bold" text-anchor="middle" fill="#000" transform="translate(885.7,1893.4) scale(1,1.035)">-0.15</text><text x="0.0" y="0.0" font-family="'Liberation Sans', Arial, sans-serif" font-size="24.5" font-weight="bold" text-anchor="middle" fill="#000" transform="translate(1042.6,1893.4) scale(1,1.035)">0.00</text><text x="0.0" y="0.0" font-family="'Liberation Sans', Arial, sans-serif" font-size="24.5" font-weight="bold" text-anchor="middle" fill="#000" transform="translate(1200.0,1893.4) scale(1,1.035)">0.15</text><line x1="1006.3" y1="1856.6" x2="1006.3" y2="1869.6" stroke="#000" stroke-width="3.2"/><line x1="1006.3" y1="1542.7" x2="1006.3" y2="1858.5" stroke="#0b1480" stroke-width="6.3" stroke-linecap="round" stroke-dasharray="18.4 13.04"/><path d="M885.7,1855.6 L887.0,1853.5 L888.2,1850.4 L890.0,1856.3 L891.7,1853.7 L893.3,1855.9 L894.6,1854.3 L895.4,1850.9 L897.0,1855.7 L898.5,1855.6 L900.0,1856.1 L901.8,1855.2 L903.5,1855.5 L905.3,1854.9 L907.0,1855.7 L908.5,1853.9 L910.2,1855.9 L912.0,1852.9 L913.5,1856.2 L914.4,1855.8 L915.4,1855.5 L917.3,1855.3 L918.4,1856.2 L919.7,1853.3 L921.3,1855.8 L922.9,1855.8 L924.6,1856.1 L926.0,1852.7 L927.2,1856.3 L928.7,1855.0 L930.1,1856.0 L931.5,1846.8 L932.9,1855.5 L934.3,1854.9 L935.3,1855.7 L937.1,1854.7 L938.2,1856.3 L939.7,1837.6 L941.7,1854.0 L942.9,1855.1 L944.3,1828.3 L945.9,1853.0 L946.7,1829.8 L947.9,1848.9 L949.5,1835.5 L951.0,1848.9 L952.5,1836.0 L953.6,1854.0 L955.4,1854.1 L956.4,1853.1 L957.8,1856.2 L959.7,1854.2 L960.9,1855.6 L962.4,1854.7 L964.3,1855.7 L965.4,1854.7 L966.3,1856.1 L967.4,1853.6 L968.7,1855.5 L970.2,1855.1 L971.5,1855.6 L973.3,1852.8 L974.9,1855.7 L976.4,1854.9 L978.3,1855.5 L979.7,1853.1 L981.0,1855.6 L982.0,1855.0 L983.9,1855.7 L984.9,1854.7 L985.9,1855.7 L987.3,1853.8 L988.6,1848.9 L990.4,1856.3 L991.7,1854.3 L992.7,1856.0 L993.7,1855.3 L994.7,1856.0 L996.4,1855.2 L997.8,1847.3 L999.1,1856.3 L1000.5,1854.3 L1002.3,1856.2 L1003.3,1852.6 L1004.4,1855.8 L1005.6,1855.5 L1006.6,1855.7 L1008.2,1854.0 L1009.7,1849.9 L1010.8,1856.3 L1012.7,1852.9 L1013.8,1850.9 L1015.8,1829.3 L1017.4,1842.2 L1018.9,1793.8 L1020.4,1852.8 L1021.5,1854.0 L1023.0,1729.0 L1025.1,1835.5 L1026.1,1702.8 L1028.2,1839.6 L1028.7,1767.1 L1030.0,1842.0 L1031.1,1823.8 L1032.1,1852.0 L1033.1,1844.5 L1035.2,1747.5 L1036.9,1847.9 L1038.5,1812.9 L1040.0,1852.0 L1041.5,1854.4 L1042.4,1719.8 L1044.6,1850.9 L1046.4,1855.0 L1047.6,1839.9 L1048.9,1687.6 L1050.3,1836.7 L1051.3,1731.0 L1052.6,1718.2 L1053.7,1838.9 L1055.3,1761.6 L1056.6,1842.3 L1057.7,1840.5 L1059.3,1784.2 L1060.9,1806.7 L1062.2,1563.6 L1063.5,1856.3 L1064.7,1856.0 L1065.8,1855.0 L1066.7,1851.1 L1068.2,1840.6 L1069.8,1699.6 L1071.3,1837.7 L1072.2,1795.4 L1073.4,1838.5 L1075.1,1816.0 L1077.0,1855.0 L1078.0,1843.9 L1079.4,1634.5 L1080.7,1739.1 L1081.9,1846.9 L1083.8,1648.1 L1085.9,1724.6 L1086.7,1684.4 L1088.3,1842.1 L1089.9,1846.6 L1091.2,1668.3 L1093.1,1855.0 L1095.1,1583.7 L1097.1,1648.1 L1098.3,1825.5 L1099.6,1834.1 L1101.2,1644.9 L1102.4,1705.3 L1103.6,1764.8 L1105.2,1600.6 L1107.3,1643.3 L1108.5,1830.2 L1109.5,1842.1 L1111.6,1543.6 L1112.8,1849.7 L1114.0,1806.7 L1115.6,1850.8 L1117.0,1829.4 L1118.4,1615.9 L1119.5,1825.4 L1121.1,1756.5 L1122.1,1855.0 L1123.2,1549.1 L1125.3,1620.0 L1126.5,1829.6 L1128.2,1842.1 L1129.9,1849.0 L1131.8,1727.0 L1133.6,1843.3 L1135.0,1843.7 L1136.6,1752.0 L1138.2,1843.7 L1139.7,1844.8 L1140.6,1753.6 L1142.0,1848.2 L1143.7,1829.6 L1144.6,1855.0 L1146.3,1853.7 L1147.9,1835.7 L1149.4,1853.9 L1151.2,1852.3 L1152.7,1843.7 L1154.4,1856.2 L1155.9,1855.0 L1157.3,1855.0 L1158.2,1854.1 L1159.6,1854.7 L1161.3,1847.3 L1162.7,1855.1 L1163.8,1849.6 L1164.9,1855.0 L1166.1,1847.7 L1167.2,1846.1 L1168.2,1854.3 L1169.1,1849.4 L1170.3,1856.3 L1171.6,1850.6 L1173.6,1851.0 L1175.5,1855.2 L1176.7,1853.7 L1178.3,1855.0 L1180.0,1851.6 L1181.2,1848.2 L1182.5,1844.5 L1183.6,1855.7 L1184.8,1843.6 L1186.3,1854.3 L1187.8,1842.0 L1189.7,1819.6 L1190.8,1855.6 L1192.1,1851.8 L1193.2,1855.2 L1195.0,1847.4 L1196.1,1814.7 L1197.3,1834.2 L1198.6,1853.4 L1200.0,1855.6" fill="none" stroke="#1530ff" stroke-width="1.5" stroke-linejoin="round"/><path d="M885.9,1843.9 L886.9,1844.1 L887.9,1844.4 L888.9,1844.6 L889.9,1844.8 L890.9,1845.0 L891.9,1845.2 L892.9,1845.5 L893.9,1845.7 L894.9,1845.9 L895.9,1846.1 L896.9,1846.3 L897.9,1846.5 L898.9,1846.8 L899.9,1847.0 L900.9,1847.2 L901.9,1847.4 L902.9,1847.6 L903.9,1847.8 L904.9,1848.0 L905.9,1848.2 L906.9,1848.4 L907.9,1848.6 L908.9,1848.8 L909.9,1848.9 L910.9,1849.1 L911.9,1849.3 L912.9,1849.5 L913.9,1849.7 L914.9,1849.8 L915.9,1850.0 L916.9,1850.2 L917.9,1850.3 L918.9,1850.5 L919.9,1850.7 L920.9,1850.8 L921.9,1851.0 L922.9,1851.1 L923.9,1851.3 L924.9,1851.4 L925.9,1851.5 L926.9,1851.7 L927.9,1851.8 L928.9,1851.9 L929.9,1852.0 L930.9,1852.1 L931.9,1852.3 L932.9,1852.4 L933.9,1852.5 L934.9,1852.6 L935.9,1852.6 L936.9,1852.7 L937.9,1852.8 L938.9,1852.9 L939.9,1853.0 L940.9,1853.0 L941.9,1853.1 L942.9,1853.1 L943.9,1853.2 L944.9,1853.2 L945.9,1853.3 L946.9,1853.3 L947.9,1853.3 L948.9,1853.3 L949.9,1853.3 L950.9,1853.4 L951.9,1853.4 L952.9,1853.4 L953.9,1853.3 L954.9,1853.3 L955.9,1853.3 L956.9,1853.3 L957.9,1853.2 L958.9,1853.2 L959.9,1853.1 L960.9,1853.1 L961.9,1853.0 L962.9,1852.9 L963.9,1852.8 L964.9,1852.7 L965.9,1852.6 L966.9,1852.5 L967.9,1852.4 L968.9,1852.2 L969.9,1852.1 L970.9,1851.9 L971.9,1851.7 L972.9,1851.5 L973.9,1851.3 L974.9,1851.0 L975.9,1850.8 L976.9,1850.5 L977.9,1850.2 L978.9,1849.9 L979.9,1849.5 L980.9,1849.2 L981.9,1848.8 L982.9,1848.4 L983.9,1848.0 L984.9,1847.5 L985.9,1847.0 L986.9,1846.5 L987.9,1846.0 L988.9,1845.5 L989.9,1844.9 L990.9,1844.3 L991.9,1843.6 L992.9,1843.0 L993.9,1842.3 L994.9,1841.6 L995.9,1840.8 L996.9,1840.0 L997.9,1839.2 L998.9,1838.4 L999.9,1837.5 L1000.9,1836.6 L1001.9,1835.7 L1002.9,1834.7 L1003.9,1833.8 L1004.9,1832.8 L1005.9,1831.7 L1006.9,1830.7 L1007.9,1829.6 L1008.9,1828.6 L1009.9,1827.5 L1010.9,1826.4 L1011.9,1825.2 L1012.9,1824.1 L1013.9,1822.9 L1014.9,1821.7 L1015.9,1820.5 L1016.9,1819.3 L1017.9,1818.1 L1018.9,1816.9 L1019.9,1815.6 L1020.9,1814.4 L1021.9,1813.1 L1022.9,1811.8 L1023.9,1810.5 L1024.9,1809.3 L1025.9,1808.0 L1026.9,1806.7 L1027.9,1805.4 L1028.9,1804.0 L1029.9,1802.7 L1030.9,1801.4 L1031.9,1800.1 L1032.9,1798.7 L1033.9,1797.4 L1034.9,1796.1 L1035.9,1794.7 L1036.9,1793.4 L1037.9,1792.0 L1038.9,1790.7 L1039.9,1789.4 L1040.9,1788.0 L1041.9,1786.7 L1042.9,1785.3 L1043.9,1784.0 L1044.9,1782.6 L1045.9,1781.3 L1046.9,1780.0 L1047.9,1778.6 L1048.9,1777.3 L1049.9,1776.0 L1050.9,1774.7 L1051.9,1773.4 L1052.9,1772.1 L1053.9,1770.7 L1054.9,1769.5 L1055.9,1768.2 L1056.9,1766.9 L1057.9,1765.6 L1058.9,1764.3 L1059.9,1763.1 L1060.9,1761.8 L1061.9,1760.6 L1062.9,1759.4 L1063.9,1758.2 L1064.9,1757.0 L1065.9,1755.8 L1066.9,1754.6 L1067.9,1753.4 L1068.9,1752.3 L1069.9,1751.2 L1070.9,1750.0 L1071.9,1749.0 L1072.9,1747.9 L1073.9,1746.9 L1074.9,1745.8 L1075.9,1744.8 L1076.9,1743.9 L1077.9,1742.9 L1078.9,1742.0 L1079.9,1741.2 L1080.9,1740.3 L1081.9,1739.5 L1082.9,1738.7 L1083.9,1738.0 L1084.9,1737.3 L1085.9,1736.6 L1086.9,1736.0 L1087.9,1735.4 L1088.9,1734.9 L1089.9,1734.4 L1090.9,1733.9 L1091.9,1733.5 L1092.9,1733.1 L1093.9,1732.8 L1094.9,1732.6 L1095.9,1732.4 L1096.9,1732.2 L1097.9,1732.1 L1098.9,1732.0 L1099.9,1732.0 L1100.9,1732.1 L1101.9,1732.2 L1102.9,1732.4 L1103.9,1732.6 L1104.9,1732.9 L1105.9,1733.3 L1106.9,1733.6 L1107.9,1734.1 L1108.9,1734.6 L1109.9,1735.1 L1110.9,1735.7 L1111.9,1736.4 L1112.9,1737.0 L1113.9,1737.8 L1114.9,1738.5 L1115.9,1739.4 L1116.9,1740.2 L1117.9,1741.1 L1118.9,1742.1 L1119.9,1743.0 L1120.9,1744.1 L1121.9,1745.1 L1122.9,1746.2 L1123.9,1747.3 L1124.9,1748.5 L1125.9,1749.7 L1126.9,1750.9 L1127.9,1752.2 L1128.9,1753.5 L1129.9,1754.8 L1130.9,1756.1 L1131.9,1757.5 L1132.9,1758.9 L1133.9,1760.3 L1134.9,1761.8 L1135.9,1763.2 L1136.9,1764.7 L1137.9,1766.3 L1138.9,1767.8 L1139.9,1769.4 L1140.9,1770.9 L1141.9,1772.5 L1142.9,1774.1 L1143.9,1775.7 L1144.9,1777.3 L1145.9,1779.0 L1146.9,1780.6 L1147.9,1782.2 L1148.9,1783.9 L1149.9,1785.5 L1150.9,1787.1 L1151.9,1788.8 L1152.9,1790.4 L1153.9,1792.0 L1154.9,1793.7 L1155.9,1795.3 L1156.9,1796.9 L1157.9,1798.5 L1158.9,1800.1 L1159.9,1801.6 L1160.9,1803.2 L1161.9,1804.7 L1162.9,1806.3 L1163.9,1807.7 L1164.9,1809.2 L1165.9,1810.7 L1166.9,1812.1 L1167.9,1813.5 L1168.9,1814.9 L1169.9,1816.2 L1170.9,1817.5 L1171.9,1818.8 L1172.9,1820.0 L1173.9,1821.2 L1174.9,1822.4 L1175.9,1823.5 L1176.9,1824.6 L1177.9,1825.6 L1178.9,1826.6 L1179.9,1827.6 L1180.9,1828.5 L1181.9,1829.4 L1182.9,1830.3 L1183.9,1831.1 L1184.9,1831.9 L1185.9,1832.7 L1186.9,1833.4 L1187.9,1834.1 L1188.9,1834.8 L1189.9,1835.5 L1190.9,1836.1 L1191.9,1836.7 L1192.9,1837.3 L1193.9,1837.8 L1194.9,1838.3 L1195.9,1838.8 L1196.9,1839.3 L1197.9,1839.8 L1198.9,1840.2 L1199.9,1840.7 L1200.7,1841.0" fill="none" stroke="#461950" stroke-width="6.3" stroke-linecap="round"/><path d="M1482.4,1543.4 H1469.4 V1856.7" fill="none" stroke="#000" stroke-width="3.2" stroke-linejoin="miter"/><path d="M1312.5,1869.7 V1856.7 H1626.3 V1869.7 M1469.4,1856.7 V1869.7" fill="none" stroke="#000" stroke-width="3.2" stroke-linejoin="miter"/><text x="0.0" y="0.0" font-family="'Liberation Sans', Arial, sans-serif" font-size="24.5" font-weight="bold" text-anchor="start" fill="#000" transform="translate(1484.3,1552.3) scale(1,1.035)">100</text><text x="0.0" y="0.0" font-family="'Liberation Sans', Arial, sans-serif" font-size="24.5" font-weight="bold" text-anchor="middle" fill="#000" transform="translate(1312.5,1893.5) scale(1,1.035)">-0.15</text><text x="0.0" y="0.0" font-family="'Liberation Sans', Arial, sans-serif" font-size="24.5" font-weight="bold" text-anchor="middle" fill="#000" transform="translate(1469.4,1893.5) scale(1,1.035)">0.00</text><text x="0.0" y="0.0" font-family="'Liberation Sans', Arial, sans-serif" font-size="24.5" font-weight="bold" text-anchor="middle" fill="#000" transform="translate(1626.3,1893.5) scale(1,1.035)">0.15</text><line x1="1380.8" y1="1543.4" x2="1380.8" y2="1859.0" stroke="#0b1480" stroke-width="6.3" stroke-linecap="round" stroke-dasharray="18.4 13.04"/><path d="M1312.5,1855.7 L1314.3,1856.0 L1315.7,1852.7 L1317.0,1855.6 L1318.4,1834.1 L1320.0,1852.7 L1322.0,1806.8 L1323.5,1844.4 L1325.2,1853.4 L1326.1,1854.6 L1327.6,1833.0 L1329.4,1850.8 L1330.2,1767.2 L1331.8,1851.6 L1333.1,1855.5 L1334.3,1833.0 L1335.9,1851.6 L1337.9,1836.1 L1339.5,1851.7 L1340.8,1730.6 L1342.6,1744.5 L1343.6,1836.1 L1345.6,1838.2 L1347.2,1855.7 L1349.2,1836.1 L1350.4,1853.9 L1352.3,1844.4 L1354.2,1790.8 L1355.9,1686.4 L1357.5,1844.4 L1358.5,1812.5 L1360.1,1844.4 L1361.6,1855.9 L1362.7,1850.1 L1363.7,1788.3 L1365.7,1834.1 L1366.7,1806.3 L1368.1,1851.8 L1369.3,1808.3 L1370.9,1852.4 L1372.9,1855.7 L1374.3,1847.8 L1375.9,1848.7 L1377.0,1775.4 L1379.1,1772.3 L1381.1,1694.1 L1382.7,1855.7 L1384.2,1803.2 L1386.3,1852.6 L1388.4,1842.3 L1390.2,1854.8 L1392.1,1851.5 L1393.5,1842.3 L1395.0,1856.1 L1396.0,1851.4 L1397.1,1854.0 L1398.1,1849.0 L1399.7,1842.3 L1401.1,1853.3 L1402.3,1851.2 L1403.7,1853.5 L1405.6,1845.3 L1406.9,1856.4 L1407.9,1854.6 L1409.5,1855.4 L1410.6,1846.9 L1411.8,1854.9 L1412.8,1846.6 L1414.1,1856.4 L1416.0,1848.1 L1417.2,1826.9 L1419.2,1852.6 L1421.0,1854.7 L1422.1,1835.9 L1423.3,1816.6 L1425.4,1852.6 L1427.0,1853.7 L1428.9,1852.5 L1430.5,1842.3 L1431.8,1854.9 L1433.1,1847.1 L1434.5,1855.6 L1435.6,1853.8 L1436.7,1852.6 L1438.4,1856.4 L1439.9,1848.1 L1441.2,1854.7 L1442.2,1853.7 L1443.7,1856.4 L1445.2,1853.7 L1446.4,1856.4 L1447.5,1824.3 L1449.6,1852.6 L1451.2,1853.2 L1452.7,1848.6 L1453.9,1856.4 L1454.8,1853.1 L1455.8,1856.1 L1456.8,1852.3 L1458.3,1856.0 L1459.4,1837.7 L1461.4,1854.6 L1462.5,1855.8 L1464.2,1848.8 L1465.2,1856.2 L1467.1,1853.2 L1468.0,1855.1 L1469.0,1851.4 L1470.8,1855.5 L1472.2,1854.6 L1473.9,1855.8 L1475.9,1842.7 L1477.1,1855.1 L1478.3,1856.1 L1479.8,1855.7 L1481.3,1855.2 L1482.6,1840.9 L1483.8,1854.9 L1485.1,1853.3 L1486.2,1855.5 L1487.7,1855.0 L1489.1,1851.9 L1490.0,1853.7 L1491.4,1845.3 L1492.9,1828.8 L1494.8,1853.3 L1496.6,1853.3 L1497.8,1855.5 L1499.5,1854.0 L1500.6,1848.5 L1502.6,1822.1 L1504.4,1850.0 L1505.6,1853.8 L1506.5,1849.8 L1508.1,1817.3 L1509.6,1855.9 L1510.6,1842.9 L1512.3,1854.9 L1513.7,1853.8 L1515.2,1847.4 L1516.6,1831.2 L1518.2,1854.1 L1519.1,1851.9 L1520.2,1854.9 L1522.0,1831.8 L1523.6,1856.0 L1525.7,1853.7 L1527.6,1856.4 L1528.6,1852.5 L1530.4,1856.4 L1531.4,1851.3 L1533.1,1855.8 L1534.2,1844.0 L1535.6,1855.9 L1537.8,1853.7 L1538.9,1856.3 L1540.7,1854.8 L1542.3,1854.4 L1543.2,1851.1 L1544.3,1856.4 L1545.3,1852.3 L1546.2,1856.4 L1547.5,1852.6 L1548.6,1855.4 L1550.3,1851.1 L1551.7,1855.3 L1552.9,1851.1 L1554.0,1856.4 L1554.8,1834.3 L1556.2,1855.1 L1557.8,1839.1 L1559.1,1855.2 L1560.0,1846.5 L1560.9,1853.7 L1562.7,1790.6 L1564.5,1848.8 L1565.9,1850.8 L1567.5,1795.4 L1569.4,1743.2 L1571.2,1848.8 L1572.1,1847.4 L1574.0,1700.8 L1575.7,1842.7 L1577.2,1714.1 L1579.1,1845.2 L1580.3,1715.3 L1582.1,1637.1 L1583.9,1817.3 L1585.1,1739.8 L1586.3,1660.7 L1587.4,1682.3 L1588.5,1704.4 L1590.6,1763.9 L1591.8,1853.7 L1593.6,1827.0 L1595.1,1854.7 L1596.2,1842.2 L1597.9,1753.0 L1599.1,1851.2 L1601.0,1816.7 L1602.3,1849.7 L1603.3,1779.6 L1605.0,1849.2 L1605.8,1853.7 L1606.8,1856.4 L1607.9,1850.2 L1609.4,1796.6 L1610.7,1851.6 L1612.4,1851.2 L1614.0,1854.2 L1615.5,1825.8 L1617.3,1855.5 L1618.5,1854.3 L1620.3,1795.4 L1621.5,1747.9 L1622.7,1698.3 L1624.1,1854.9 L1625.2,1848.8 L1626.1,1813.6 L1626.3,1855.7" fill="none" stroke="#1530ff" stroke-width="1.5" stroke-linejoin="round"/><path d="M1312.1,1833.7 L1313.1,1833.4 L1314.1,1833.1 L1315.1,1832.8 L1316.1,1832.5 L1317.1,1832.2 L1318.1,1831.9 L1319.1,1831.6 L1320.1,1831.4 L1321.1,1831.1 L1322.1,1830.8 L1323.1,1830.5 L1324.1,1830.2 L1325.1,1830.0 L1326.1,1829.7 L1327.1,1829.4 L1328.1,1829.1 L1329.1,1828.9 L1330.1,1828.6 L1331.1,1828.4 L1332.1,1828.1 L1333.1,1827.9 L1334.1,1827.7 L1335.1,1827.5 L1336.1,1827.2 L1337.1,1827.0 L1338.1,1826.8 L1339.1,1826.6 L1340.1,1826.4 L1341.1,1826.3 L1342.1,1826.1 L1343.1,1825.9 L1344.1,1825.8 L1345.1,1825.7 L1346.1,1825.5 L1347.1,1825.4 L1348.1,1825.3 L1349.1,1825.2 L1350.1,1825.1 L1351.1,1825.0 L1352.1,1825.0 L1353.1,1824.9 L1354.1,1824.9 L1355.1,1824.9 L1356.1,1824.9 L1357.1,1824.9 L1358.1,1824.9 L1359.1,1824.9 L1360.1,1824.9 L1361.1,1825.0 L1362.1,1825.0 L1363.1,1825.1 L1364.1,1825.2 L1365.1,1825.3 L1366.1,1825.4 L1367.1,1825.5 L1368.1,1825.6 L1369.1,1825.8 L1370.1,1825.9 L1371.1,1826.1 L1372.1,1826.2 L1373.1,1826.4 L1374.1,1826.6 L1375.1,1826.8 L1376.1,1827.0 L1377.1,1827.2 L1378.1,1827.4 L1379.1,1827.6 L1380.1,1827.9 L1381.1,1828.1 L1382.1,1828.3 L1383.1,1828.6 L1384.1,1828.8 L1385.1,1829.1 L1386.1,1829.3 L1387.1,1829.6 L1388.1,1829.9 L1389.1,1830.2 L1390.1,1830.4 L1391.1,1830.7 L1392.1,1831.0 L1393.1,1831.3 L1394.1,1831.6 L1395.1,1831.9 L1396.1,1832.2 L1397.1,1832.5 L1398.1,1832.8 L1399.1,1833.1 L1400.1,1833.4 L1401.1,1833.7 L1402.1,1834.0 L1403.1,1834.4 L1404.1,1834.7 L1405.1,1835.0 L1406.1,1835.3 L1407.1,1835.6 L1408.1,1835.9 L1409.1,1836.2 L1410.1,1836.6 L1411.1,1836.9 L1412.1,1837.2 L1413.1,1837.5 L1414.1,1837.8 L1415.1,1838.1 L1416.1,1838.5 L1417.1,1838.8 L1418.1,1839.1 L1419.1,1839.4 L1420.1,1839.7 L1421.1,1840.0 L1422.1,1840.3 L1423.1,1840.6 L1424.1,1840.9 L1425.1,1841.2 L1426.1,1841.5 L1427.1,1841.8 L1428.1,1842.1 L1429.1,1842.4 L1430.1,1842.7 L1431.1,1842.9 L1432.1,1843.2 L1433.1,1843.5 L1434.1,1843.7 L1435.1,1844.0 L1436.1,1844.3 L1437.1,1844.5 L1438.1,1844.8 L1439.1,1845.0 L1440.1,1845.3 L1441.1,1845.5 L1442.1,1845.7 L1443.1,1846.0 L1444.1,1846.2 L1445.1,1846.4 L1446.1,1846.6 L1447.1,1846.8 L1448.1,1847.0 L1449.1,1847.2 L1450.1,1847.4 L1451.1,1847.5 L1452.1,1847.7 L1453.1,1847.9 L1454.1,1848.0 L1455.1,1848.2 L1456.1,1848.3 L1457.1,1848.4 L1458.1,1848.6 L1459.1,1848.7 L1460.1,1848.8 L1461.1,1848.9 L1462.1,1849.0 L1463.1,1849.1 L1464.1,1849.1 L1465.1,1849.2 L1466.1,1849.2 L1467.1,1849.3 L1468.1,1849.3 L1469.1,1849.3 L1470.1,1849.4 L1471.1,1849.4 L1472.1,1849.4 L1473.1,1849.3 L1474.1,1849.3 L1475.1,1849.3 L1476.1,1849.2 L1477.1,1849.2 L1478.1,1849.1 L1479.1,1849.0 L1480.1,1848.9 L1481.1,1848.8 L1482.1,1848.7 L1483.1,1848.6 L1484.1,1848.5 L1485.1,1848.4 L1486.1,1848.2 L1487.1,1848.1 L1488.1,1847.9 L1489.1,1847.7 L1490.1,1847.6 L1491.1,1847.4 L1492.1,1847.2 L1493.1,1847.0 L1494.1,1846.8 L1495.1,1846.5 L1496.1,1846.3 L1497.1,1846.1 L1498.1,1845.8 L1499.1,1845.6 L1500.1,1845.3 L1501.1,1845.0 L1502.1,1844.7 L1503.1,1844.5 L1504.1,1844.2 L1505.1,1843.9 L1506.1,1843.5 L1507.1,1843.2 L1508.1,1842.9 L1509.1,1842.6 L1510.1,1842.2 L1511.1,1841.9 L1512.1,1841.5 L1513.1,1841.2 L1514.1,1840.8 L1515.1,1840.4 L1516.1,1840.0 L1517.1,1839.6 L1518.1,1839.2 L1519.1,1838.8 L1520.1,1838.4 L1521.1,1838.0 L1522.1,1837.6 L1523.1,1837.2 L1524.1,1836.7 L1525.1,1836.3 L1526.1,1835.8 L1527.1,1835.4 L1528.1,1834.9 L1529.1,1834.5 L1530.1,1834.0 L1531.1,1833.5 L1532.1,1833.0 L1533.1,1832.6 L1534.1,1832.1 L1535.1,1831.6 L1536.1,1831.1 L1537.1,1830.6 L1538.1,1830.0 L1539.1,1829.5 L1540.1,1829.0 L1541.1,1828.5 L1542.1,1827.9 L1543.1,1827.4 L1544.1,1826.9 L1545.1,1826.3 L1546.1,1825.8 L1547.1,1825.2 L1548.1,1824.7 L1549.1,1824.1 L1550.1,1823.5 L1551.1,1823.0 L1552.1,1822.4 L1553.1,1821.8 L1554.1,1821.2 L1555.1,1820.7 L1556.1,1820.1 L1557.1,1819.5 L1558.1,1818.9 L1559.1,1818.4 L1560.1,1817.8 L1561.1,1817.2 L1562.1,1816.7 L1563.1,1816.1 L1564.1,1815.6 L1565.1,1815.0 L1566.1,1814.5 L1567.1,1813.9 L1568.1,1813.4 L1569.1,1812.9 L1570.1,1812.4 L1571.1,1811.9 L1572.1,1811.4 L1573.1,1810.9 L1574.1,1810.4 L1575.1,1810.0 L1576.1,1809.5 L1577.1,1809.1 L1578.1,1808.7 L1579.1,1808.3 L1580.1,1807.9 L1581.1,1807.5 L1582.1,1807.1 L1583.1,1806.8 L1584.1,1806.5 L1585.1,1806.1 L1586.1,1805.9 L1587.1,1805.6 L1588.1,1805.3 L1589.1,1805.1 L1590.1,1804.9 L1591.1,1804.7 L1592.1,1804.5 L1593.1,1804.4 L1594.1,1804.2 L1595.1,1804.1 L1596.1,1804.0 L1597.1,1803.9 L1598.1,1803.9 L1599.1,1803.8 L1600.1,1803.8 L1601.1,1803.8 L1602.1,1803.7 L1603.1,1803.8 L1604.1,1803.8 L1605.1,1803.8 L1606.1,1803.8 L1607.1,1803.9 L1608.1,1803.9 L1609.1,1804.0 L1610.1,1804.1 L1611.1,1804.2 L1612.1,1804.3 L1613.1,1804.4 L1614.1,1804.5 L1615.1,1804.6 L1616.1,1804.7 L1617.1,1804.8 L1618.1,1804.9 L1619.1,1805.1 L1620.1,1805.2 L1621.1,1805.3 L1622.1,1805.5 L1623.1,1805.6 L1624.1,1805.7 L1625.1,1805.9 L1626.1,1806.0 L1626.4,1806.1" fill="none" stroke="#461950" stroke-width="6.3" stroke-linecap="round"/><text x="0.0" y="0.0" font-family="'Liberation Sans', Arial, sans-serif" font-size="25.4" font-weight="bold" text-anchor="middle" fill="#000" transform="translate(227.7,1929.8) scale(1,1.04)">Time (s)</text><text x="0.0" y="0.0" font-family="'Liberation Sans', Arial, sans-serif" font-size="25.4" font-weight="bold" text-anchor="middle" fill="#000" transform="translate(643.4,1934.8) scale(1,1.04)">Time (s)</text><text x="0.0" y="0.0" font-family="'Liberation Sans', Arial, sans-serif" font-size="25.4" font-weight="bold" text-anchor="middle" fill="#000" transform="translate(1042.3,1934.8) scale(1,1.04)">Time (s)</text><text x="0.0" y="0.0" font-family="'Liberation Sans', Arial, sans-serif" font-size="25.4" font-weight="bold" text-anchor="middle" fill="#000" transform="translate(1469.4,1934.8) scale(1,1.04)">Time (s)</text><line x1="204.5" y1="2004.2" x2="296.5" y2="2004.2" stroke="#1530ff" stroke-width="8.8" stroke-linecap="round"/><line x1="547.7" y1="2003.8" x2="640.7" y2="2003.8" stroke="#e42a22" stroke-width="8.8" stroke-linecap="round"/><text x="0.0" y="0.0" font-family="'Liberation Sans', Arial, sans-serif" font-size="34" font-weight="normal" text-anchor="start" fill="#1a1a1a" transform="translate(357.5,2015.0) scale(1,1.05)">LBP</text><text x="0.0" y="0.0" font-family="'Liberation Sans', Arial, sans-serif" font-size="34" font-weight="normal" text-anchor="start" fill="#1a1a1a" transform="translate(678.5,2015.0) scale(1,1.05)">Control</text></svg>
</body></html>
